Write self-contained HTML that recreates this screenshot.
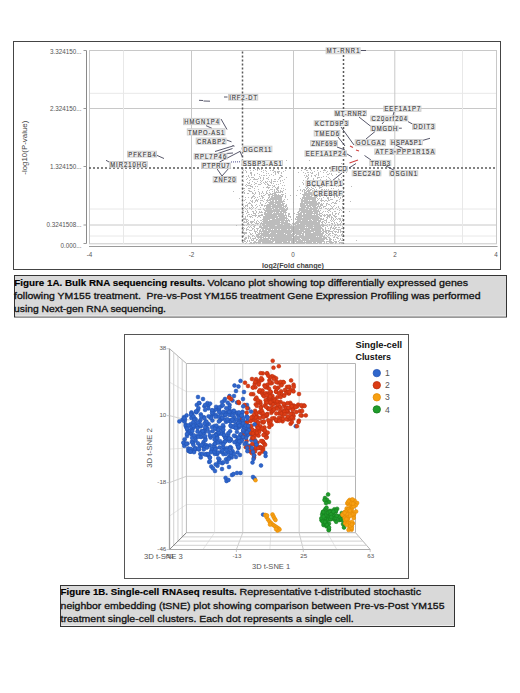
<!DOCTYPE html>
<html><head><meta charset="utf-8"><style>
html,body{margin:0;padding:0;background:#fff;}
body{width:520px;height:693px;position:relative;overflow:hidden;}
svg{position:absolute;left:0;top:0;font-family:"Liberation Sans",sans-serif;}
</style></head><body>
<svg width="520" height="693" viewBox="0 0 520 693">
<rect x="13.5" y="41.5" width="487" height="228" fill="none" stroke="#444" stroke-width="1"/>
<line x1="89" y1="93.3" x2="497" y2="93.3" stroke="#e8e8e8" stroke-width="1"/>
<line x1="89" y1="209" x2="497" y2="209" stroke="#e8e8e8" stroke-width="1"/>
<line x1="89" y1="236" x2="497" y2="236" stroke="#e8e8e8" stroke-width="1"/>
<line x1="89" y1="50.5" x2="497" y2="50.5" stroke="#c8c8c8" stroke-width="1"/>
<line x1="89" y1="108.5" x2="497" y2="108.5" stroke="#c8c8c8" stroke-width="1"/>
<line x1="89" y1="225" x2="497" y2="225" stroke="#c8c8c8" stroke-width="1"/>
<line x1="89" y1="243.8" x2="497" y2="243.8" stroke="#c8c8c8" stroke-width="1"/>
<line x1="123.5" y1="50.5" x2="123.5" y2="243.8" stroke="#e8e8e8" stroke-width="1"/>
<line x1="462.5" y1="50.5" x2="462.5" y2="243.8" stroke="#e8e8e8" stroke-width="1"/>
<line x1="89.5" y1="50.5" x2="89.5" y2="243.8" stroke="#c8c8c8" stroke-width="1"/>
<line x1="191.5" y1="50.5" x2="191.5" y2="243.8" stroke="#c8c8c8" stroke-width="1"/>
<line x1="293.5" y1="50.5" x2="293.5" y2="243.8" stroke="#c8c8c8" stroke-width="1"/>
<line x1="394.8" y1="50.5" x2="394.8" y2="243.8" stroke="#c8c8c8" stroke-width="1"/>
<line x1="496.5" y1="50.5" x2="496.5" y2="243.8" stroke="#c8c8c8" stroke-width="1"/>
<path d="M286 160h1M309 160h1M251 161h1M262 162h1M341 163h1M270 164h1M271 164h1M238 167h1M259 168h1M274 168h1M308 168h1M310 168h1M314 168h1M317 168h1M322 168h1M342 168h1M255 169h1M257 169h1M259 169h1M261 169h1M273 169h1M278 169h1M304 169h1M305 169h1M310 169h1M324 169h1M343 169h1M243 170h1M245 170h1M250 170h1M253 170h1M257 170h1M263 170h1M265 170h1M270 170h1M272 170h1M273 170h1M285 170h1M301 170h1M306 170h1M307 170h1M311 170h1M317 170h1M323 170h1M324 170h1M325 170h1M332 170h1M341 170h1M246 171h1M261 171h1M266 171h1M274 171h1M275 171h1M277 171h1M278 171h1M279 171h1M283 171h1M314 171h1M320 171h1M327 171h1M330 171h1M333 171h1M246 172h1M250 172h1M251 172h1M263 172h1M273 172h1M275 172h1M277 172h1M278 172h1M281 172h1M298 172h1M303 172h1M307 172h1M308 172h1M310 172h1M312 172h1M318 172h1M323 172h1M326 172h1M338 172h1M339 172h1M346 172h1M250 173h1M251 173h1M257 173h1M266 173h1M268 173h1M275 173h1M278 173h1M281 173h1M305 173h1M311 173h1M312 173h1M318 173h1M329 173h1M331 173h1M356 173h1M251 174h1M254 174h1M259 174h1M271 174h1M275 174h1M308 174h1M316 174h1M318 174h1M327 174h1M328 174h1M331 174h1M336 174h1M243 175h1M248 175h1M251 175h1M254 175h1M261 175h1M263 175h1M264 175h1M266 175h1M269 175h1M273 175h1M280 175h1M281 175h1M304 175h1M306 175h1M308 175h1M311 175h1M314 175h1M315 175h1M318 175h1M332 175h1M338 175h1M246 176h1M248 176h1M259 176h1M281 176h1M282 176h1M306 176h1M307 176h1M311 176h1M315 176h1M323 176h1M326 176h1M249 177h1M251 177h1M252 177h1M253 177h1M260 177h1M263 177h1M268 177h1M279 177h1M280 177h1M286 177h1M305 177h1M308 177h1M317 177h1M318 177h1M319 177h1M321 177h1M328 177h1M341 177h1M247 178h1M254 178h1M258 178h1M260 178h1M263 178h1M266 178h1M267 178h1M279 178h1M307 178h1M308 178h1M313 178h1M317 178h1M329 178h1M338 178h1M246 179h1M250 179h1M253 179h1M254 179h1M255 179h1M256 179h1M257 179h1M263 179h1M268 179h1M271 179h1M274 179h1M275 179h1M278 179h1M284 179h1M307 179h1M313 179h1M320 179h1M326 179h1M330 179h1M338 179h1M339 179h1M249 180h1M260 180h1M262 180h1M271 180h1M280 180h1M282 180h1M303 180h1M308 180h1M310 180h1M243 181h1M252 181h1M257 181h1M261 181h1M265 181h1M267 181h1M269 181h1M271 181h1M273 181h1M274 181h1M275 181h1M277 181h1M280 181h1M315 181h1M326 181h1M331 181h1M332 181h1M333 181h1M247 182h1M249 182h1M254 182h1M260 182h1M263 182h1M265 182h1M266 182h1M270 182h1M271 182h1M283 182h1M302 182h1M315 182h1M317 182h1M322 182h1M327 182h1M335 182h1M248 183h1M249 183h1M255 183h1M256 183h1M261 183h1M264 183h1M267 183h1M271 183h1M273 183h1M280 183h1M303 183h1M308 183h1M309 183h1M310 183h1M312 183h1M314 183h1M317 183h1M318 183h1M319 183h1M324 183h1M326 183h1M327 183h1M329 183h1M333 183h1M336 183h1M337 183h1M246 184h1M251 184h1M254 184h1M258 184h1M259 184h1M260 184h1M265 184h1M267 184h1M268 184h1M276 184h1M278 184h1M303 184h1M320 184h1M324 184h1M326 184h1M328 184h1M341 184h1M242 185h1M245 185h1M247 185h1M248 185h1M249 185h1M250 185h1M268 185h1M269 185h1M270 185h1M272 185h1M274 185h1M282 185h1M284 185h1M307 185h1M308 185h1M310 185h1M318 185h1M320 185h1M324 185h1M327 185h1M330 185h1M246 186h1M250 186h1M251 186h1M252 186h1M255 186h1M257 186h1M267 186h1M273 186h1M274 186h1M278 186h1M299 186h1M306 186h1M307 186h1M313 186h1M314 186h1M318 186h1M319 186h1M322 186h1M326 186h1M336 186h1M338 186h1M351 186h1M252 187h1M263 187h1M266 187h1M267 187h1M268 187h1M269 187h1M272 187h1M275 187h1M277 187h1M278 187h1M305 187h1M307 187h1M308 187h1M311 187h1M315 187h1M319 187h1M320 187h1M321 187h1M242 188h1M243 188h1M244 188h1M248 188h1M249 188h1M250 188h1M254 188h1M268 188h1M276 188h1M277 188h1M278 188h1M281 188h1M283 188h1M306 188h1M307 188h1M309 188h1M312 188h1M313 188h1M319 188h1M331 188h1M333 188h1M343 188h1M242 189h1M258 189h1M270 189h1M271 189h1M272 189h1M274 189h1M276 189h1M277 189h1M285 189h1M300 189h1M303 189h1M304 189h1M306 189h1M308 189h1M310 189h1M311 189h1M314 189h1M316 189h1M321 189h1M322 189h1M324 189h1M326 189h1M328 189h1M338 189h1M343 189h1M244 190h1M248 190h1M249 190h1M254 190h1M267 190h1M269 190h1M274 190h1M277 190h1M278 190h1M280 190h1M283 190h1M297 190h1M300 190h1M302 190h1M304 190h1M305 190h1M307 190h1M308 190h1M309 190h1M310 190h1M312 190h1M314 190h1M321 190h1M325 190h1M328 190h1M330 190h1M233 191h1M243 191h1M249 191h1M250 191h1M251 191h1M258 191h1M262 191h1M266 191h1M272 191h1M274 191h1M276 191h1M278 191h1M280 191h1M281 191h1M282 191h1M302 191h1M304 191h1M306 191h1M307 191h1M308 191h1M309 191h1M312 191h1M313 191h1M314 191h1M317 191h1M319 191h1M322 191h1M323 191h1M324 191h1M326 191h1M327 191h1M342 191h1M242 192h1M244 192h1M252 192h1M255 192h1M259 192h1M262 192h1M266 192h1M269 192h1M274 192h1M275 192h1M276 192h1M277 192h1M278 192h1M279 192h1M280 192h1M282 192h1M304 192h1M305 192h1M306 192h1M308 192h1M309 192h1M310 192h1M311 192h1M317 192h1M319 192h1M322 192h1M323 192h1M325 192h1M326 192h1M327 192h1M330 192h1M335 192h1M339 192h1M244 193h1M247 193h1M248 193h1M252 193h1M253 193h1M255 193h1M259 193h1M261 193h1M263 193h1M266 193h1M267 193h1M270 193h1M272 193h1M273 193h1M274 193h1M275 193h1M285 193h1M300 193h1M304 193h1M305 193h1M306 193h1M307 193h1M308 193h1M309 193h1M310 193h1M311 193h1M313 193h1M314 193h1M315 193h1M319 193h1M324 193h1M331 193h1M254 194h1M259 194h1M265 194h1M268 194h1M269 194h1M270 194h1M271 194h1M272 194h1M274 194h1M275 194h1M276 194h1M278 194h1M281 194h1M282 194h1M283 194h1M302 194h1M303 194h1M304 194h1M305 194h1M306 194h1M307 194h1M308 194h1M309 194h1M310 194h1M311 194h1M312 194h1M314 194h1M315 194h1M316 194h1M324 194h1M326 194h1M331 194h1M335 194h1M337 194h1M338 194h1M340 194h1M342 194h1M253 195h1M261 195h1M263 195h1M264 195h1M268 195h1M269 195h1M272 195h1M273 195h1M274 195h1M275 195h1M276 195h1M277 195h1M278 195h1M279 195h1M280 195h1M282 195h1M285 195h1M290 195h1M296 195h1M303 195h1M304 195h1M305 195h1M306 195h1M307 195h1M308 195h1M309 195h1M311 195h1M312 195h1M320 195h1M321 195h1M322 195h1M330 195h1M331 195h1M337 195h1M252 196h1M253 196h1M254 196h1M259 196h1M261 196h1M262 196h1M269 196h1M271 196h1M272 196h1M274 196h1M275 196h1M276 196h1M277 196h1M278 196h1M279 196h1M280 196h1M281 196h1M282 196h1M285 196h1M303 196h1M304 196h1M306 196h1M307 196h1M308 196h1M309 196h1M310 196h1M311 196h1M314 196h1M315 196h1M316 196h1M317 196h1M319 196h1M320 196h1M326 196h1M334 196h1M336 196h1M337 196h1M342 196h1M245 197h1M248 197h1M251 197h1M252 197h1M255 197h1M257 197h1M262 197h1M263 197h1M268 197h1M269 197h1M271 197h1M272 197h1M273 197h1M274 197h1M275 197h1M276 197h1M277 197h1M278 197h1M279 197h1M280 197h1M281 197h1M285 197h1M302 197h1M303 197h1M304 197h1M305 197h1M306 197h1M307 197h1M308 197h1M309 197h1M310 197h1M311 197h1M312 197h1M313 197h1M314 197h1M315 197h1M316 197h1M323 197h1M327 197h1M328 197h1M330 197h1M334 197h1M338 197h1M340 197h1M342 197h1M239 198h1M242 198h1M251 198h1M254 198h1M260 198h1M262 198h1M268 198h1M270 198h1M271 198h1M272 198h1M273 198h1M274 198h1M275 198h1M276 198h1M277 198h1M278 198h1M279 198h1M280 198h1M281 198h1M300 198h1M302 198h1M303 198h1M304 198h1M305 198h1M306 198h1M307 198h1M308 198h1M309 198h1M310 198h1M311 198h1M312 198h1M313 198h1M314 198h1M315 198h1M317 198h1M319 198h1M321 198h1M327 198h1M328 198h1M340 198h1M242 199h1M245 199h1M256 199h1M258 199h1M264 199h1M267 199h1M269 199h1M270 199h1M271 199h1M272 199h1M273 199h1M274 199h1M275 199h1M276 199h1M277 199h1M278 199h1M279 199h1M280 199h1M281 199h1M284 199h1M287 199h1M301 199h1M302 199h1M304 199h1M305 199h1M306 199h1M307 199h1M308 199h1M309 199h1M310 199h1M311 199h1M312 199h1M313 199h1M314 199h1M315 199h1M318 199h1M321 199h1M328 199h1M330 199h1M331 199h1M332 199h1M339 199h1M244 200h1M250 200h1M252 200h1M255 200h1M256 200h1M257 200h1M260 200h1M261 200h1M262 200h1M266 200h1M267 200h1M268 200h1M269 200h1M270 200h1M272 200h1M273 200h1M275 200h1M276 200h1M278 200h1M279 200h1M280 200h1M281 200h1M283 200h1M301 200h1M302 200h1M303 200h1M304 200h1M305 200h1M306 200h1M307 200h1M309 200h1M312 200h1M313 200h1M314 200h1M315 200h1M317 200h1M320 200h1M321 200h1M322 200h1M323 200h1M325 200h1M326 200h1M328 200h1M329 200h1M336 200h1M337 200h1M251 201h1M252 201h1M255 201h1M257 201h1M263 201h1M267 201h1M270 201h1M271 201h1M272 201h1M273 201h1M275 201h1M276 201h1M277 201h1M278 201h1M279 201h1M280 201h1M281 201h1M282 201h1M283 201h1M284 201h1M301 201h1M302 201h1M303 201h1M304 201h1M305 201h1M306 201h1M307 201h1M308 201h1M309 201h1M310 201h1M311 201h1M312 201h1M313 201h1M314 201h1M315 201h1M316 201h1M321 201h1M324 201h1M327 201h1M336 201h1M339 201h1M342 201h1M343 201h1M350 201h1M242 202h1M246 202h1M249 202h1M252 202h1M254 202h1M260 202h1M266 202h1M268 202h1M269 202h1M270 202h1M271 202h1M272 202h1M273 202h1M274 202h1M275 202h1M276 202h1M277 202h1M278 202h1M279 202h1M280 202h1M281 202h1M282 202h1M293 202h1M301 202h1M302 202h1M304 202h1M305 202h1M306 202h1M307 202h1M308 202h1M309 202h1M310 202h1M311 202h1M312 202h1M313 202h1M314 202h1M315 202h1M316 202h1M318 202h1M319 202h1M332 202h1M333 202h1M335 202h1M248 203h1M249 203h1M250 203h1M260 203h1M265 203h1M269 203h1M270 203h1M271 203h1M272 203h1M273 203h1M275 203h1M276 203h1M277 203h1M278 203h1M279 203h1M280 203h1M282 203h1M283 203h1M284 203h1M300 203h1M301 203h1M302 203h1M303 203h1M304 203h1M305 203h1M306 203h1M307 203h1M308 203h1M309 203h1M310 203h1M311 203h1M312 203h1M313 203h1M314 203h1M315 203h1M316 203h1M317 203h1M318 203h1M319 203h1M321 203h1M323 203h1M326 203h1M327 203h1M331 203h1M334 203h1M335 203h1M336 203h1M342 203h1M247 204h1M251 204h1M256 204h1M261 204h1M262 204h1M267 204h1M268 204h1M269 204h1M270 204h1M271 204h1M272 204h1M273 204h1M274 204h1M275 204h1M277 204h1M278 204h1M279 204h1M280 204h1M281 204h1M282 204h1M283 204h1M286 204h1M300 204h1M301 204h1M302 204h1M303 204h1M304 204h1M306 204h1M307 204h1M309 204h1M310 204h1M311 204h1M312 204h1M313 204h1M314 204h1M315 204h1M316 204h1M317 204h1M318 204h1M320 204h1M321 204h1M322 204h1M326 204h1M328 204h1M329 204h1M242 205h1M245 205h1M246 205h1M247 205h1M251 205h1M252 205h1M255 205h1M259 205h1M261 205h1M262 205h1M264 205h1M265 205h1M266 205h1M267 205h1M268 205h1M269 205h1M270 205h1M272 205h1M273 205h1M274 205h1M275 205h1M276 205h1M277 205h1M278 205h1M279 205h1M280 205h1M281 205h1M282 205h1M283 205h1M285 205h1M286 205h1M300 205h1M301 205h1M302 205h1M303 205h1M304 205h1M305 205h1M306 205h1M307 205h1M308 205h1M309 205h1M310 205h1M311 205h1M312 205h1M313 205h1M314 205h1M315 205h1M316 205h1M318 205h1M320 205h1M321 205h1M322 205h1M326 205h1M330 205h1M334 205h1M243 206h1M245 206h1M247 206h1M252 206h1M257 206h1M264 206h1M266 206h1M267 206h1M268 206h1M269 206h1M270 206h1M271 206h1M272 206h1M273 206h1M274 206h1M275 206h1M276 206h1M277 206h1M278 206h1M279 206h1M280 206h1M281 206h1M283 206h1M284 206h1M285 206h1M286 206h1M300 206h1M301 206h1M302 206h1M303 206h1M304 206h1M305 206h1M307 206h1M308 206h1M309 206h1M310 206h1M312 206h1M313 206h1M314 206h1M315 206h1M317 206h1M318 206h1M319 206h1M320 206h1M323 206h1M324 206h1M325 206h1M331 206h1M333 206h1M338 206h1M342 206h1M244 207h1M249 207h1M251 207h1M253 207h1M256 207h1M260 207h1M266 207h1M267 207h1M268 207h1M269 207h1M270 207h1M272 207h1M273 207h1M274 207h1M275 207h1M276 207h1M277 207h1M278 207h1M279 207h1M280 207h1M281 207h1M282 207h1M283 207h1M285 207h1M287 207h1M301 207h1M302 207h1M303 207h1M304 207h1M305 207h1M306 207h1M307 207h1M308 207h1M310 207h1M311 207h1M313 207h1M314 207h1M315 207h1M316 207h1M317 207h1M319 207h1M321 207h1M323 207h1M332 207h1M336 207h1M338 207h1M342 207h1M243 208h1M245 208h1M247 208h1M249 208h1M250 208h1M252 208h1M255 208h1M263 208h1M265 208h1M266 208h1M267 208h1M268 208h1M269 208h1M270 208h1M271 208h1M272 208h1M273 208h1M275 208h1M276 208h1M277 208h1M279 208h1M280 208h1M281 208h1M282 208h1M283 208h1M284 208h1M286 208h1M287 208h1M299 208h1M300 208h1M301 208h1M302 208h1M303 208h1M304 208h1M306 208h1M307 208h1M308 208h1M309 208h1M310 208h1M311 208h1M312 208h1M313 208h1M314 208h1M315 208h1M316 208h1M317 208h1M319 208h1M320 208h1M321 208h1M325 208h1M326 208h1M328 208h1M330 208h1M331 208h1M332 208h1M335 208h1M339 208h1M342 208h1M242 209h1M246 209h1M251 209h1M258 209h1M259 209h1M260 209h1M263 209h1M264 209h1M266 209h1M267 209h1M268 209h1M269 209h1M270 209h1M271 209h1M273 209h1M274 209h1M275 209h1M276 209h1M277 209h1M278 209h1M279 209h1M280 209h1M281 209h1M282 209h1M283 209h1M284 209h1M285 209h1M286 209h1M287 209h1M299 209h1M300 209h1M301 209h1M302 209h1M303 209h1M304 209h1M305 209h1M306 209h1M307 209h1M309 209h1M310 209h1M311 209h1M312 209h1M313 209h1M314 209h1M315 209h1M316 209h1M318 209h1M327 209h1M329 209h1M330 209h1M333 209h1M337 209h1M340 209h1M343 209h1M242 210h1M243 210h1M247 210h1M255 210h1M264 210h1M265 210h1M266 210h1M267 210h1M268 210h1M269 210h1M270 210h1M271 210h1M272 210h1M273 210h1M274 210h1M275 210h1M276 210h1M277 210h1M278 210h1M279 210h1M281 210h1M282 210h1M283 210h1M284 210h1M285 210h1M286 210h1M299 210h1M300 210h1M301 210h1M302 210h1M303 210h1M304 210h1M305 210h1M306 210h1M307 210h1M308 210h1M309 210h1M310 210h1M311 210h1M313 210h1M314 210h1M315 210h1M316 210h1M317 210h1M318 210h1M320 210h1M328 210h1M329 210h1M339 210h1M341 210h1M245 211h1M247 211h1M252 211h1M253 211h1M256 211h1M259 211h1M261 211h1M265 211h1M266 211h1M267 211h1M268 211h1M269 211h1M270 211h1M271 211h1M272 211h1M273 211h1M274 211h1M275 211h1M276 211h1M277 211h1M278 211h1M279 211h1M280 211h1M281 211h1M282 211h1M283 211h1M284 211h1M285 211h1M298 211h1M299 211h1M301 211h1M302 211h1M303 211h1M304 211h1M305 211h1M306 211h1M307 211h1M308 211h1M309 211h1M310 211h1M311 211h1M312 211h1M313 211h1M314 211h1M315 211h1M316 211h1M317 211h1M318 211h1M319 211h1M323 211h1M325 211h1M327 211h1M330 211h1M334 211h1M335 211h1M343 211h1M349 211h1M243 212h1M247 212h1M248 212h1M253 212h1M256 212h1M259 212h1M260 212h1M261 212h1M262 212h1M264 212h1M265 212h1M267 212h1M268 212h1M269 212h1M270 212h1M271 212h1M272 212h1M274 212h1M276 212h1M277 212h1M278 212h1M280 212h1M281 212h1M283 212h1M284 212h1M285 212h1M286 212h1M297 212h1M298 212h1M300 212h1M301 212h1M302 212h1M303 212h1M304 212h1M305 212h1M306 212h1M307 212h1M308 212h1M309 212h1M310 212h1M311 212h1M312 212h1M314 212h1M315 212h1M316 212h1M317 212h1M319 212h1M322 212h1M328 212h1M332 212h1M339 212h1M246 213h1M253 213h1M254 213h1M255 213h1M258 213h1M264 213h1M265 213h1M266 213h1M267 213h1M268 213h1M269 213h1M270 213h1M271 213h1M273 213h1M274 213h1M275 213h1M276 213h1M277 213h1M278 213h1M279 213h1M280 213h1M281 213h1M282 213h1M283 213h1M285 213h1M288 213h1M289 213h1M294 213h1M298 213h1M299 213h1M300 213h1M301 213h1M303 213h1M304 213h1M306 213h1M307 213h1M308 213h1M309 213h1M310 213h1M311 213h1M312 213h1M313 213h1M314 213h1M315 213h1M316 213h1M317 213h1M319 213h1M320 213h1M321 213h1M332 213h1M335 213h1M336 213h1M338 213h1M242 214h1M243 214h1M248 214h1M249 214h1M251 214h1M255 214h1M261 214h1M262 214h1M264 214h1M265 214h1M266 214h1M267 214h1M268 214h1M269 214h1M270 214h1M271 214h1M272 214h1M273 214h1M274 214h1M275 214h1M276 214h1M277 214h1M278 214h1M279 214h1M280 214h1M281 214h1M282 214h1M283 214h1M285 214h1M288 214h1M289 214h1M296 214h1M297 214h1M298 214h1M299 214h1M300 214h1M301 214h1M303 214h1M304 214h1M305 214h1M306 214h1M307 214h1M308 214h1M309 214h1M310 214h1M311 214h1M314 214h1M316 214h1M317 214h1M318 214h1M319 214h1M322 214h1M324 214h1M326 214h1M327 214h1M329 214h1M330 214h1M332 214h1M335 214h1M338 214h1M242 215h1M247 215h1M252 215h1M253 215h1M254 215h1M255 215h1M256 215h1M258 215h1M259 215h1M260 215h1M261 215h1M262 215h1M265 215h1M266 215h1M267 215h1M268 215h1M269 215h1M270 215h1M271 215h1M272 215h1M273 215h1M274 215h1M275 215h1M276 215h1M278 215h1M279 215h1M280 215h1M281 215h1M282 215h1M283 215h1M284 215h1M285 215h1M286 215h1M288 215h1M298 215h1M299 215h1M300 215h1M301 215h1M302 215h1M303 215h1M304 215h1M305 215h1M306 215h1M307 215h1M308 215h1M309 215h1M310 215h1M311 215h1M312 215h1M313 215h1M314 215h1M315 215h1M316 215h1M317 215h1M319 215h1M320 215h1M321 215h1M323 215h1M324 215h1M325 215h1M327 215h1M328 215h1M329 215h1M330 215h1M333 215h1M334 215h1M341 215h1M242 216h1M245 216h1M247 216h1M249 216h1M250 216h1M251 216h1M255 216h1M258 216h1M259 216h1M263 216h1M264 216h1M265 216h1M266 216h1M267 216h1M268 216h1M269 216h1M270 216h1M271 216h1M272 216h1M273 216h1M274 216h1M275 216h1M276 216h1M277 216h1M278 216h1M279 216h1M280 216h1M281 216h1M282 216h1M283 216h1M284 216h1M286 216h1M288 216h1M289 216h1M290 216h1M296 216h1M297 216h1M298 216h1M299 216h1M300 216h1M301 216h1M302 216h1M303 216h1M304 216h1M305 216h1M306 216h1M307 216h1M308 216h1M309 216h1M310 216h1M311 216h1M312 216h1M313 216h1M314 216h1M315 216h1M316 216h1M317 216h1M318 216h1M320 216h1M321 216h1M324 216h1M327 216h1M328 216h1M329 216h1M331 216h1M334 216h1M335 216h1M336 216h1M341 216h1M245 217h1M250 217h1M252 217h1M257 217h1M260 217h1M263 217h1M264 217h1M265 217h1M266 217h1M267 217h1M268 217h1M269 217h1M270 217h1M271 217h1M272 217h1M273 217h1M274 217h1M275 217h1M276 217h1M277 217h1M279 217h1M280 217h1M281 217h1M282 217h1M283 217h1M284 217h1M285 217h1M286 217h1M290 217h1M296 217h1M297 217h1M298 217h1M299 217h1M300 217h1M301 217h1M303 217h1M304 217h1M305 217h1M306 217h1M307 217h1M308 217h1M309 217h1M310 217h1M311 217h1M312 217h1M313 217h1M314 217h1M315 217h1M316 217h1M317 217h1M318 217h1M319 217h1M326 217h1M327 217h1M329 217h1M331 217h1M332 217h1M335 217h1M243 218h1M244 218h1M245 218h1M263 218h1M264 218h1M265 218h1M266 218h1M267 218h1M268 218h1M269 218h1M270 218h1M271 218h1M272 218h1M273 218h1M274 218h1M276 218h1M277 218h1M278 218h1M279 218h1M280 218h1M281 218h1M282 218h1M283 218h1M284 218h1M285 218h1M286 218h1M287 218h1M295 218h1M297 218h1M298 218h1M299 218h1M300 218h1M301 218h1M302 218h1M303 218h1M304 218h1M305 218h1M306 218h1M307 218h1M308 218h1M309 218h1M310 218h1M311 218h1M312 218h1M313 218h1M314 218h1M315 218h1M316 218h1M317 218h1M318 218h1M319 218h1M320 218h1M321 218h1M323 218h1M327 218h1M331 218h1M333 218h1M336 218h1M338 218h1M339 218h1M340 218h1M342 218h1M242 219h1M243 219h1M244 219h1M245 219h1M246 219h1M247 219h1M254 219h1M262 219h1M263 219h1M264 219h1M265 219h1M266 219h1M267 219h1M268 219h1M269 219h1M272 219h1M273 219h1M274 219h1M275 219h1M276 219h1M277 219h1M278 219h1M279 219h1M280 219h1M281 219h1M282 219h1M283 219h1M284 219h1M286 219h1M288 219h1M291 219h1M295 219h1M296 219h1M297 219h1M298 219h1M299 219h1M300 219h1M301 219h1M302 219h1M303 219h1M304 219h1M305 219h1M306 219h1M307 219h1M308 219h1M309 219h1M310 219h1M312 219h1M313 219h1M314 219h1M315 219h1M316 219h1M317 219h1M318 219h1M320 219h1M321 219h1M322 219h1M323 219h1M326 219h1M331 219h1M333 219h1M335 219h1M337 219h1M339 219h1M340 219h1M246 220h1M248 220h1M254 220h1M257 220h1M260 220h1M261 220h1M263 220h1M264 220h1M265 220h1M266 220h1M267 220h1M269 220h1M270 220h1M271 220h1M272 220h1M273 220h1M274 220h1M275 220h1M276 220h1M277 220h1M278 220h1M279 220h1M280 220h1M281 220h1M282 220h1M283 220h1M284 220h1M285 220h1M286 220h1M287 220h1M288 220h1M289 220h1M297 220h1M298 220h1M299 220h1M300 220h1M302 220h1M303 220h1M304 220h1M305 220h1M306 220h1M307 220h1M309 220h1M310 220h1M311 220h1M313 220h1M314 220h1M315 220h1M316 220h1M317 220h1M318 220h1M319 220h1M320 220h1M324 220h1M325 220h1M326 220h1M330 220h1M332 220h1M334 220h1M340 220h1M342 220h1M244 221h1M246 221h1M247 221h1M250 221h1M251 221h1M252 221h1M253 221h1M256 221h1M258 221h1M262 221h1M263 221h1M264 221h1M265 221h1M266 221h1M267 221h1M268 221h1M269 221h1M270 221h1M271 221h1M272 221h1M273 221h1M274 221h1M275 221h1M276 221h1M277 221h1M278 221h1M279 221h1M281 221h1M282 221h1M283 221h1M285 221h1M286 221h1M287 221h1M289 221h1M296 221h1M297 221h1M298 221h1M299 221h1M300 221h1M301 221h1M302 221h1M303 221h1M304 221h1M305 221h1M306 221h1M307 221h1M308 221h1M309 221h1M310 221h1M311 221h1M312 221h1M313 221h1M314 221h1M315 221h1M316 221h1M318 221h1M319 221h1M320 221h1M322 221h1M323 221h1M326 221h1M331 221h1M333 221h1M339 221h1M341 221h1M343 221h1M243 222h1M244 222h1M245 222h1M246 222h1M248 222h1M250 222h1M251 222h1M252 222h1M254 222h1M256 222h1M259 222h1M261 222h1M263 222h1M264 222h1M265 222h1M266 222h1M267 222h1M268 222h1M269 222h1M270 222h1M271 222h1M272 222h1M273 222h1M274 222h1M275 222h1M276 222h1M277 222h1M278 222h1M279 222h1M280 222h1M281 222h1M282 222h1M283 222h1M284 222h1M285 222h1M286 222h1M287 222h1M293 222h1M295 222h1M296 222h1M297 222h1M298 222h1M299 222h1M300 222h1M301 222h1M302 222h1M303 222h1M304 222h1M305 222h1M306 222h1M307 222h1M308 222h1M309 222h1M310 222h1M311 222h1M312 222h1M313 222h1M314 222h1M315 222h1M316 222h1M317 222h1M318 222h1M319 222h1M321 222h1M322 222h1M324 222h1M326 222h1M328 222h1M329 222h1M334 222h1M336 222h1M341 222h1M247 223h1M248 223h1M251 223h1M255 223h1M256 223h1M257 223h1M258 223h1M260 223h1M261 223h1M262 223h1M263 223h1M264 223h1M265 223h1M266 223h1M267 223h1M268 223h1M269 223h1M270 223h1M271 223h1M272 223h1M273 223h1M274 223h1M275 223h1M276 223h1M277 223h1M278 223h1M279 223h1M281 223h1M282 223h1M283 223h1M284 223h1M285 223h1M286 223h1M287 223h1M288 223h1M289 223h1M292 223h1M294 223h1M295 223h1M296 223h1M297 223h1M298 223h1M300 223h1M301 223h1M302 223h1M303 223h1M304 223h1M305 223h1M306 223h1M307 223h1M308 223h1M309 223h1M310 223h1M311 223h1M312 223h1M313 223h1M314 223h1M315 223h1M316 223h1M317 223h1M318 223h1M319 223h1M322 223h1M325 223h1M331 223h1M332 223h1M334 223h1M337 223h1M340 223h1M343 223h1M344 223h1M243 224h1M247 224h1M248 224h1M249 224h1M252 224h1M253 224h1M257 224h1M260 224h1M262 224h1M263 224h1M264 224h1M266 224h1M267 224h1M268 224h1M269 224h1M270 224h1M271 224h1M272 224h1M273 224h1M274 224h1M275 224h1M276 224h1M277 224h1M278 224h1M279 224h1M280 224h1M281 224h1M282 224h1M284 224h1M285 224h1M286 224h1M287 224h1M288 224h1M289 224h1M290 224h1M293 224h1M294 224h1M295 224h1M297 224h1M298 224h1M299 224h1M300 224h1M301 224h1M302 224h1M303 224h1M304 224h1M305 224h1M306 224h1M307 224h1M308 224h1M309 224h1M310 224h1M311 224h1M312 224h1M313 224h1M314 224h1M315 224h1M316 224h1M317 224h1M318 224h1M319 224h1M321 224h1M322 224h1M323 224h1M327 224h1M329 224h1M332 224h1M335 224h1M337 224h1M338 224h1M339 224h1M340 224h1M343 224h1M236 225h1M243 225h1M244 225h1M246 225h1M251 225h1M254 225h1M255 225h1M260 225h1M262 225h1M263 225h1M264 225h1M265 225h1M266 225h1M267 225h1M268 225h1M269 225h1M270 225h1M271 225h1M272 225h1M273 225h1M274 225h1M277 225h1M278 225h1M279 225h1M280 225h1M281 225h1M282 225h1M283 225h1M284 225h1M285 225h1M286 225h1M287 225h1M288 225h1M289 225h1M291 225h1M295 225h1M296 225h1M297 225h1M298 225h1M299 225h1M300 225h1M301 225h1M302 225h1M303 225h1M304 225h1M306 225h1M307 225h1M308 225h1M309 225h1M310 225h1M311 225h1M312 225h1M314 225h1M315 225h1M316 225h1M317 225h1M318 225h1M319 225h1M320 225h1M321 225h1M322 225h1M323 225h1M324 225h1M325 225h1M326 225h1M329 225h1M331 225h1M334 225h1M335 225h1M337 225h1M338 225h1M340 225h1M242 226h1M248 226h1M250 226h1M253 226h1M254 226h1M259 226h1M260 226h1M261 226h1M263 226h1M264 226h1M265 226h1M266 226h1M267 226h1M268 226h1M269 226h1M270 226h1M271 226h1M272 226h1M273 226h1M274 226h1M275 226h1M276 226h1M277 226h1M278 226h1M279 226h1M280 226h1M281 226h1M282 226h1M283 226h1M284 226h1M285 226h1M286 226h1M287 226h1M288 226h1M289 226h1M290 226h1M291 226h1M292 226h1M294 226h1M295 226h1M296 226h1M297 226h1M298 226h1M299 226h1M300 226h1M301 226h1M302 226h1M303 226h1M304 226h1M305 226h1M306 226h1M307 226h1M308 226h1M309 226h1M310 226h1M311 226h1M312 226h1M313 226h1M314 226h1M315 226h1M316 226h1M317 226h1M318 226h1M319 226h1M320 226h1M322 226h1M323 226h1M327 226h1M331 226h1M334 226h1M342 226h1M242 227h1M243 227h1M247 227h1M249 227h1M251 227h1M254 227h1M259 227h1M260 227h1M261 227h1M262 227h1M263 227h1M264 227h1M265 227h1M266 227h1M267 227h1M269 227h1M270 227h1M271 227h1M272 227h1M273 227h1M274 227h1M275 227h1M276 227h1M277 227h1M278 227h1M279 227h1M280 227h1M281 227h1M282 227h1M283 227h1M284 227h1M285 227h1M286 227h1M287 227h1M288 227h1M289 227h1M290 227h1M291 227h1M292 227h1M293 227h1M294 227h1M295 227h1M296 227h1M297 227h1M298 227h1M299 227h1M300 227h1M301 227h1M302 227h1M303 227h1M304 227h1M306 227h1M308 227h1M309 227h1M310 227h1M311 227h1M312 227h1M314 227h1M315 227h1M316 227h1M317 227h1M318 227h1M319 227h1M320 227h1M321 227h1M325 227h1M330 227h1M331 227h1M333 227h1M335 227h1M336 227h1M338 227h1M339 227h1M244 228h1M246 228h1M252 228h1M253 228h1M256 228h1M257 228h1M258 228h1M261 228h1M262 228h1M263 228h1M264 228h1M265 228h1M266 228h1M267 228h1M268 228h1M269 228h1M270 228h1M271 228h1M272 228h1M273 228h1M274 228h1M275 228h1M276 228h1M277 228h1M278 228h1M279 228h1M280 228h1M281 228h1M282 228h1M283 228h1M284 228h1M285 228h1M286 228h1M287 228h1M288 228h1M289 228h1M290 228h1M291 228h1M292 228h1M293 228h1M294 228h1M295 228h1M296 228h1M297 228h1M298 228h1M299 228h1M300 228h1M301 228h1M302 228h1M303 228h1M304 228h1M305 228h1M306 228h1M307 228h1M308 228h1M309 228h1M310 228h1M311 228h1M312 228h1M313 228h1M314 228h1M315 228h1M316 228h1M317 228h1M318 228h1M319 228h1M320 228h1M321 228h1M322 228h1M325 228h1M328 228h1M330 228h1M332 228h1M333 228h1M334 228h1M335 228h1M341 228h1M342 228h1M343 228h1M243 229h1M246 229h1M247 229h1M248 229h1M252 229h1M254 229h1M257 229h1M260 229h1M262 229h1M263 229h1M265 229h1M266 229h1M267 229h1M268 229h1M269 229h1M270 229h1M272 229h1M274 229h1M275 229h1M276 229h1M278 229h1M279 229h1M281 229h1M282 229h1M283 229h1M284 229h1M285 229h1M286 229h1M288 229h1M289 229h1M291 229h1M292 229h1M293 229h1M294 229h1M295 229h1M296 229h1M297 229h1M298 229h1M300 229h1M301 229h1M302 229h1M303 229h1M304 229h1M305 229h1M306 229h1M307 229h1M308 229h1M309 229h1M311 229h1M312 229h1M313 229h1M314 229h1M315 229h1M316 229h1M317 229h1M318 229h1M319 229h1M320 229h1M322 229h1M323 229h1M325 229h1M330 229h1M334 229h1M336 229h1M337 229h1M338 229h1M339 229h1M340 229h1M343 229h1M242 230h1M243 230h1M246 230h1M249 230h1M250 230h1M251 230h1M254 230h1M257 230h1M259 230h1M260 230h1M262 230h1M263 230h1M264 230h1M265 230h1M266 230h1M268 230h1M269 230h1M270 230h1M271 230h1M272 230h1M273 230h1M274 230h1M275 230h1M276 230h1M277 230h1M278 230h1M279 230h1M280 230h1M281 230h1M282 230h1M283 230h1M284 230h1M285 230h1M286 230h1M287 230h1M288 230h1M289 230h1M290 230h1M291 230h1M292 230h1M294 230h1M295 230h1M296 230h1M297 230h1M298 230h1M299 230h1M300 230h1M301 230h1M302 230h1M303 230h1M305 230h1M306 230h1M307 230h1M308 230h1M309 230h1M310 230h1M311 230h1M312 230h1M313 230h1M314 230h1M315 230h1M316 230h1M317 230h1M318 230h1M319 230h1M320 230h1M322 230h1M323 230h1M325 230h1M326 230h1M327 230h1M328 230h1M329 230h1M333 230h1M338 230h1M340 230h1M242 231h1M254 231h1M255 231h1M256 231h1M259 231h1M260 231h1M261 231h1M262 231h1M263 231h1M264 231h1M265 231h1M266 231h1M267 231h1M268 231h1M269 231h1M270 231h1M271 231h1M272 231h1M273 231h1M274 231h1M275 231h1M276 231h1M277 231h1M278 231h1M279 231h1M280 231h1M281 231h1M282 231h1M283 231h1M284 231h1M285 231h1M286 231h1M287 231h1M288 231h1M289 231h1M290 231h1M291 231h1M292 231h1M293 231h1M294 231h1M295 231h1M296 231h1M297 231h1M298 231h1M299 231h1M300 231h1M301 231h1M302 231h1M303 231h1M304 231h1M305 231h1M306 231h1M307 231h1M308 231h1M309 231h1M310 231h1M311 231h1M312 231h1M313 231h1M315 231h1M316 231h1M317 231h1M318 231h1M319 231h1M320 231h1M321 231h1M323 231h1M324 231h1M325 231h1M326 231h1M328 231h1M329 231h1M330 231h1M331 231h1M332 231h1M334 231h1M335 231h1M336 231h1M338 231h1M340 231h1M341 231h1M342 231h1M243 232h1M244 232h1M245 232h1M246 232h1M249 232h1M255 232h1M257 232h1M259 232h1M261 232h1M263 232h1M264 232h1M265 232h1M266 232h1M267 232h1M268 232h1M269 232h1M271 232h1M272 232h1M273 232h1M274 232h1M275 232h1M276 232h1M277 232h1M278 232h1M279 232h1M280 232h1M281 232h1M282 232h1M283 232h1M284 232h1M285 232h1M286 232h1M287 232h1M288 232h1M289 232h1M290 232h1M291 232h1M293 232h1M294 232h1M295 232h1M296 232h1M297 232h1M298 232h1M299 232h1M300 232h1M301 232h1M303 232h1M304 232h1M305 232h1M306 232h1M307 232h1M308 232h1M309 232h1M310 232h1M313 232h1M314 232h1M315 232h1M316 232h1M317 232h1M318 232h1M319 232h1M320 232h1M322 232h1M323 232h1M325 232h1M326 232h1M328 232h1M332 232h1M335 232h1M337 232h1M338 232h1M340 232h1M343 232h1M243 233h1M244 233h1M245 233h1M246 233h1M250 233h1M252 233h1M255 233h1M258 233h1M259 233h1M260 233h1M261 233h1M262 233h1M263 233h1M264 233h1M265 233h1M266 233h1M267 233h1M268 233h1M270 233h1M271 233h1M272 233h1M273 233h1M274 233h1M275 233h1M277 233h1M278 233h1M279 233h1M280 233h1M281 233h1M282 233h1M283 233h1M285 233h1M286 233h1M287 233h1M288 233h1M289 233h1M290 233h1M292 233h1M293 233h1M294 233h1M295 233h1M296 233h1M297 233h1M298 233h1M299 233h1M300 233h1M301 233h1M302 233h1M303 233h1M305 233h1M306 233h1M307 233h1M308 233h1M309 233h1M310 233h1M311 233h1M312 233h1M313 233h1M314 233h1M315 233h1M316 233h1M317 233h1M318 233h1M319 233h1M320 233h1M321 233h1M322 233h1M323 233h1M326 233h1M327 233h1M329 233h1M330 233h1M332 233h1M333 233h1M342 233h1M244 234h1M250 234h1M251 234h1M256 234h1M257 234h1M258 234h1M259 234h1M261 234h1M262 234h1M263 234h1M264 234h1M265 234h1M266 234h1M267 234h1M268 234h1M269 234h1M270 234h1M271 234h1M272 234h1M273 234h1M274 234h1M275 234h1M276 234h1M277 234h1M278 234h1M279 234h1M280 234h1M281 234h1M282 234h1M283 234h1M284 234h1M285 234h1M287 234h1M288 234h1M289 234h1M290 234h1M291 234h1M292 234h1M293 234h1M294 234h1M296 234h1M297 234h1M298 234h1M299 234h1M300 234h1M302 234h1M303 234h1M305 234h1M306 234h1M307 234h1M308 234h1M309 234h1M310 234h1M311 234h1M312 234h1M313 234h1M314 234h1M315 234h1M316 234h1M317 234h1M318 234h1M319 234h1M320 234h1M321 234h1M322 234h1M325 234h1M328 234h1M329 234h1M334 234h1M335 234h1M336 234h1M341 234h1M342 234h1M343 234h1M243 235h1M248 235h1M252 235h1M253 235h1M256 235h1M257 235h1M258 235h1M260 235h1M261 235h1M262 235h1M263 235h1M264 235h1M265 235h1M266 235h1M267 235h1M268 235h1M269 235h1M270 235h1M271 235h1M272 235h1M273 235h1M274 235h1M275 235h1M276 235h1M277 235h1M278 235h1M279 235h1M280 235h1M281 235h1M282 235h1M283 235h1M284 235h1M285 235h1M286 235h1M287 235h1M288 235h1M289 235h1M290 235h1M291 235h1M292 235h1M293 235h1M295 235h1M296 235h1M299 235h1M300 235h1M301 235h1M302 235h1M303 235h1M305 235h1M306 235h1M307 235h1M308 235h1M309 235h1M310 235h1M311 235h1M312 235h1M313 235h1M314 235h1M315 235h1M316 235h1M317 235h1M318 235h1M319 235h1M320 235h1M321 235h1M322 235h1M324 235h1M326 235h1M328 235h1M330 235h1M332 235h1M335 235h1M337 235h1M339 235h1M341 235h1M243 236h1M248 236h1M249 236h1M252 236h1M254 236h1M256 236h1M257 236h1M258 236h1M259 236h1M260 236h1M261 236h1M263 236h1M264 236h1M265 236h1M266 236h1M267 236h1M268 236h1M269 236h1M270 236h1M271 236h1M272 236h1M273 236h1M274 236h1M275 236h1M276 236h1M277 236h1M278 236h1M279 236h1M280 236h1M281 236h1M282 236h1M283 236h1M284 236h1M285 236h1M286 236h1M287 236h1M288 236h1M289 236h1M290 236h1M291 236h1M292 236h1M293 236h1M294 236h1M295 236h1M296 236h1M297 236h1M298 236h1M299 236h1M300 236h1M301 236h1M302 236h1M303 236h1M304 236h1M305 236h1M306 236h1M307 236h1M308 236h1M309 236h1M310 236h1M311 236h1M312 236h1M313 236h1M314 236h1M315 236h1M317 236h1M319 236h1M320 236h1M321 236h1M322 236h1M323 236h1M324 236h1M327 236h1M334 236h1M338 236h1M342 236h1M343 236h1M242 237h1M245 237h1M246 237h1M248 237h1M250 237h1M255 237h1M257 237h1M258 237h1M259 237h1M260 237h1M261 237h1M262 237h1M263 237h1M265 237h1M268 237h1M269 237h1M271 237h1M272 237h1M274 237h1M275 237h1M276 237h1M277 237h1M278 237h1M279 237h1M280 237h1M281 237h1M282 237h1M283 237h1M284 237h1M285 237h1M286 237h1M287 237h1M288 237h1M289 237h1M290 237h1M291 237h1M293 237h1M294 237h1M295 237h1M296 237h1M297 237h1M298 237h1M299 237h1M300 237h1M301 237h1M302 237h1M303 237h1M304 237h1M305 237h1M306 237h1M307 237h1M308 237h1M309 237h1M310 237h1M311 237h1M312 237h1M313 237h1M314 237h1M315 237h1M316 237h1M317 237h1M318 237h1M319 237h1M320 237h1M321 237h1M323 237h1M324 237h1M325 237h1M326 237h1M328 237h1M329 237h1M333 237h1M334 237h1M336 237h1M337 237h1M244 238h1M245 238h1M246 238h1M248 238h1M250 238h1M252 238h1M253 238h1M254 238h1M255 238h1M258 238h1M260 238h1M261 238h1M263 238h1M264 238h1M265 238h1M266 238h1M267 238h1M268 238h1M269 238h1M270 238h1M271 238h1M272 238h1M273 238h1M274 238h1M275 238h1M276 238h1M277 238h1M278 238h1M279 238h1M280 238h1M281 238h1M282 238h1M283 238h1M284 238h1M285 238h1M286 238h1M287 238h1M288 238h1M289 238h1M290 238h1M291 238h1M292 238h1M293 238h1M294 238h1M295 238h1M296 238h1M297 238h1M298 238h1M299 238h1M301 238h1M302 238h1M303 238h1M304 238h1M305 238h1M306 238h1M307 238h1M308 238h1M309 238h1M310 238h1M311 238h1M312 238h1M313 238h1M314 238h1M315 238h1M316 238h1M317 238h1M318 238h1M319 238h1M320 238h1M321 238h1M322 238h1M323 238h1M324 238h1M325 238h1M326 238h1M329 238h1M330 238h1M337 238h1M338 238h1M340 238h1M342 238h1M244 239h1M245 239h1M251 239h1M253 239h1M256 239h1M257 239h1M259 239h1M260 239h1M261 239h1M262 239h1M263 239h1M264 239h1M265 239h1M266 239h1M267 239h1M268 239h1M270 239h1M271 239h1M272 239h1M273 239h1M274 239h1M275 239h1M276 239h1M277 239h1M278 239h1M279 239h1M280 239h1M281 239h1M282 239h1M283 239h1M284 239h1M285 239h1M286 239h1M287 239h1M288 239h1M289 239h1M290 239h1M291 239h1M292 239h1M293 239h1M294 239h1M295 239h1M296 239h1M297 239h1M298 239h1M299 239h1M300 239h1M302 239h1M303 239h1M304 239h1M305 239h1M306 239h1M307 239h1M308 239h1M310 239h1M311 239h1M312 239h1M313 239h1M314 239h1M315 239h1M316 239h1M317 239h1M318 239h1M319 239h1M320 239h1M321 239h1M322 239h1M323 239h1M324 239h1M326 239h1M327 239h1M329 239h1M330 239h1M331 239h1M333 239h1M335 239h1M340 239h1M343 239h1M243 240h1M244 240h1M247 240h1M249 240h1M251 240h1M252 240h1M253 240h1M256 240h1M258 240h1M259 240h1M260 240h1M261 240h1M262 240h1M263 240h1M264 240h1M265 240h1M266 240h1M267 240h1M268 240h1M269 240h1M270 240h1M272 240h1M273 240h1M274 240h1M275 240h1M276 240h1M277 240h1M278 240h1M279 240h1M280 240h1M281 240h1M282 240h1M283 240h1M284 240h1M285 240h1M286 240h1M287 240h1M288 240h1M289 240h1M290 240h1M291 240h1M292 240h1M293 240h1M294 240h1M295 240h1M296 240h1M298 240h1M299 240h1M300 240h1M301 240h1M302 240h1M303 240h1M304 240h1M305 240h1M306 240h1M307 240h1M308 240h1M309 240h1M310 240h1M311 240h1M312 240h1M313 240h1M314 240h1M315 240h1M316 240h1M317 240h1M318 240h1M319 240h1M320 240h1M321 240h1M322 240h1M323 240h1M329 240h1M330 240h1M333 240h1M339 240h1M341 240h1M342 240h1M356 240h1M242 241h1M244 241h1M245 241h1M247 241h1M249 241h1M254 241h1M255 241h1M258 241h1M259 241h1M260 241h1M261 241h1M262 241h1M263 241h1M264 241h1M265 241h1M266 241h1M267 241h1M268 241h1M269 241h1M270 241h1M271 241h1M272 241h1M273 241h1M275 241h1M276 241h1M277 241h1M278 241h1M279 241h1M280 241h1M281 241h1M282 241h1M283 241h1M284 241h1M285 241h1M286 241h1M288 241h1M289 241h1M291 241h1M292 241h1M293 241h1M294 241h1M295 241h1M296 241h1M297 241h1M298 241h1M299 241h1M300 241h1M301 241h1M302 241h1M304 241h1M306 241h1M307 241h1M308 241h1M309 241h1M310 241h1M311 241h1M312 241h1M313 241h1M314 241h1M315 241h1M316 241h1M317 241h1M318 241h1M319 241h1M320 241h1M321 241h1M322 241h1M323 241h1M324 241h1M326 241h1M327 241h1M328 241h1M329 241h1M330 241h1M331 241h1M334 241h1M335 241h1M336 241h1M338 241h1M242 242h1M243 242h1M246 242h1M250 242h1M251 242h1M253 242h1M254 242h1M255 242h1M256 242h1M257 242h1M258 242h1M259 242h1M260 242h1M262 242h1M263 242h1M264 242h1M265 242h1M266 242h1M267 242h1M268 242h1M269 242h1M270 242h1M271 242h1M272 242h1M275 242h1M276 242h1M277 242h1M278 242h1M279 242h1M280 242h1M281 242h1M283 242h1M284 242h1M285 242h1M286 242h1M287 242h1M288 242h1M289 242h1M291 242h1M292 242h1M293 242h1M294 242h1M296 242h1M297 242h1M298 242h1M299 242h1M300 242h1M301 242h1M302 242h1M303 242h1M304 242h1M305 242h1M306 242h1M307 242h1M308 242h1M309 242h1M310 242h1M311 242h1M313 242h1M314 242h1M315 242h1M317 242h1M318 242h1M319 242h1M320 242h1M321 242h1M324 242h1M326 242h1M329 242h1M330 242h1M331 242h1M332 242h1M333 242h1M335 242h1M336 242h1M339 242h1M340 242h1M341 242h1M342 242h1M343 242h1M245 243h1M249 243h1M250 243h1M251 243h1M252 243h1M253 243h1M254 243h1M256 243h1M258 243h1M259 243h1M260 243h1M262 243h1M263 243h1M264 243h1M265 243h1M266 243h1M267 243h1M268 243h1M269 243h1M270 243h1M271 243h1M272 243h1M273 243h1M274 243h1M275 243h1M276 243h1M277 243h1M278 243h1M279 243h1M280 243h1M281 243h1M282 243h1M283 243h1M284 243h1M285 243h1M286 243h1M287 243h1M288 243h1M289 243h1M290 243h1M291 243h1M292 243h1M293 243h1M294 243h1M295 243h1M296 243h1M297 243h1M298 243h1M299 243h1M300 243h1M301 243h1M302 243h1M303 243h1M304 243h1M306 243h1M307 243h1M308 243h1M309 243h1M310 243h1M311 243h1M312 243h1M313 243h1M314 243h1M315 243h1M316 243h1M317 243h1M319 243h1M320 243h1M321 243h1M323 243h1M324 243h1M326 243h1M327 243h1M328 243h1M330 243h1M331 243h1M332 243h1M335 243h1M339 243h1M341 243h1M342 243h1M343 243h1" stroke="#bcbcbc" stroke-width="1" fill="none" shape-rendering="crispEdges"/>
<line x1="293.5" y1="170" x2="293.5" y2="243.8" stroke="#888" stroke-width="1" opacity="0.35"/>
<line x1="86.5" y1="50.5" x2="86.5" y2="243.5" stroke="#8a8a8a" stroke-width="1"/>
<line x1="89" y1="246.5" x2="497.5" y2="246.5" stroke="#9a9a9a" stroke-width="1"/>
<line x1="83.5" y1="50.5" x2="86.5" y2="50.5" stroke="#999" stroke-width="1"/>
<line x1="83.5" y1="108.5" x2="86.5" y2="108.5" stroke="#999" stroke-width="1"/>
<line x1="83.5" y1="166.5" x2="86.5" y2="166.5" stroke="#999" stroke-width="1"/>
<line x1="83.5" y1="225" x2="86.5" y2="225" stroke="#999" stroke-width="1"/>
<line x1="83.5" y1="243.5" x2="86.5" y2="243.5" stroke="#999" stroke-width="1"/>
<line x1="242.5" y1="51.5" x2="242.5" y2="243.5" stroke="#5a5a5a" stroke-width="1.5" stroke-dasharray="2 2"/>
<line x1="343.5" y1="55" x2="343.5" y2="243.5" stroke="#5a5a5a" stroke-width="1.5" stroke-dasharray="2 2"/>
<line x1="89" y1="168" x2="496" y2="168" stroke="#5a5a5a" stroke-width="1.5" stroke-dasharray="2 2"/>
<text x="81.5" y="53.7" font-size="6.3" fill="#555" text-anchor="end">3.324150...</text>
<text x="81.5" y="111.2" font-size="6.3" fill="#555" text-anchor="end">2.324150...</text>
<text x="81.5" y="168.7" font-size="6.3" fill="#555" text-anchor="end">1.324150...</text>
<text x="81.5" y="227" font-size="6.3" fill="#555" text-anchor="end">0.3241508...</text>
<text x="81.5" y="247.8" font-size="6.3" fill="#555" text-anchor="end">0.000...</text>
<text x="89.5" y="256.8" font-size="6.3" fill="#555" text-anchor="middle">-4</text>
<text x="191.5" y="256.8" font-size="6.3" fill="#555" text-anchor="middle">-2</text>
<text x="293" y="256.8" font-size="6.3" fill="#555" text-anchor="middle">0</text>
<text x="395" y="256.8" font-size="6.3" fill="#555" text-anchor="middle">2</text>
<text x="496" y="256.8" font-size="6.3" fill="#555" text-anchor="middle">4</text>
<text x="293" y="267.6" font-size="6.8" fill="#444" textLength="62" lengthAdjust="spacingAndGlyphs" text-anchor="middle" font-weight="600">log2(Fold change)</text>
<text transform="translate(27.4,147.7) rotate(-90)" font-size="6.6" fill="#444" text-anchor="middle" textLength="54" lengthAdjust="spacingAndGlyphs">-log10(P-value)</text>
<line x1="361" y1="50.5" x2="366" y2="50.5" stroke="#45455a" stroke-width="0.9"/>
<line x1="224" y1="97" x2="227.5" y2="97" stroke="#45455a" stroke-width="0.9"/>
<line x1="199" y1="100.3" x2="203" y2="100.5" stroke="#45455a" stroke-width="0.9"/>
<line x1="203.5" y1="101" x2="210" y2="101.2" stroke="#45455a" stroke-width="0.9"/>
<line x1="221" y1="119" x2="227" y2="129.5" stroke="#45455a" stroke-width="0.9"/>
<line x1="206" y1="125.6" x2="212" y2="128.4" stroke="#45455a" stroke-width="0.9"/>
<line x1="226.5" y1="140" x2="231.5" y2="141.8" stroke="#45455a" stroke-width="0.9"/>
<line x1="232.5" y1="145.5" x2="234.5" y2="146.2" stroke="#45455a" stroke-width="0.9"/>
<line x1="215" y1="151.5" x2="233.5" y2="145.8" stroke="#45455a" stroke-width="0.9"/>
<line x1="215" y1="154.5" x2="232.5" y2="148.5" stroke="#45455a" stroke-width="0.9"/>
<line x1="226" y1="153.5" x2="233" y2="153" stroke="#45455a" stroke-width="0.9"/>
<line x1="219.6" y1="162" x2="240.4" y2="151.2" stroke="#45455a" stroke-width="0.9"/>
<line x1="240" y1="151.5" x2="242.5" y2="157" stroke="#45455a" stroke-width="0.9"/>
<line x1="217" y1="168.8" x2="222" y2="176" stroke="#45455a" stroke-width="0.9"/>
<line x1="229" y1="168" x2="222" y2="176" stroke="#45455a" stroke-width="0.9"/>
<line x1="359" y1="117" x2="371" y2="126.5" stroke="#45455a" stroke-width="0.9"/>
<line x1="394" y1="112" x2="393" y2="115.7" stroke="#45455a" stroke-width="0.9"/>
<line x1="384" y1="121.6" x2="382" y2="124" stroke="#45455a" stroke-width="0.9"/>
<line x1="399" y1="128.2" x2="401.8" y2="128.2" stroke="#45455a" stroke-width="0.9"/>
<line x1="408" y1="121.6" x2="412.5" y2="124" stroke="#45455a" stroke-width="0.9"/>
<line x1="341" y1="127" x2="354" y2="145" stroke="#45455a" stroke-width="0.9"/>
<line x1="338" y1="137" x2="345" y2="146" stroke="#45455a" stroke-width="0.9"/>
<line x1="337" y1="147" x2="345" y2="150" stroke="#45455a" stroke-width="0.9"/>
<line x1="366" y1="139" x2="375" y2="131.5" stroke="#45455a" stroke-width="0.9"/>
<line x1="423" y1="140.3" x2="430" y2="138.3" stroke="#45455a" stroke-width="0.9"/>
<line x1="347" y1="154" x2="352" y2="157" stroke="#45455a" stroke-width="0.9"/>
<line x1="394" y1="151.8" x2="396" y2="151.8" stroke="#45455a" stroke-width="0.9"/>
<line x1="364.5" y1="155.5" x2="371" y2="160" stroke="#45455a" stroke-width="0.9"/>
<line x1="349" y1="168" x2="356" y2="163.5" stroke="#45455a" stroke-width="0.9"/>
<line x1="386" y1="166" x2="394" y2="170.2" stroke="#45455a" stroke-width="0.9"/>
<line x1="395.5" y1="145" x2="403" y2="148.6" stroke="#45455a" stroke-width="0.9"/>
<line x1="333" y1="180.2" x2="342" y2="173" stroke="#45455a" stroke-width="0.9"/>
<line x1="106" y1="160.3" x2="110" y2="162.5" stroke="#45455a" stroke-width="0.9"/>
<line x1="157" y1="155.4" x2="164" y2="158.5" stroke="#45455a" stroke-width="0.9"/>
<line x1="231" y1="162" x2="241" y2="161.8" stroke="#4a4a8a" stroke-width="1" stroke-dasharray="1 1"/>
<line x1="349.5" y1="163" x2="358" y2="160" stroke="#d04040" stroke-width="1.1"/>
<line x1="350" y1="146" x2="353" y2="147.5" stroke="#d04040" stroke-width="1.1"/>
<line x1="356" y1="150" x2="359" y2="151" stroke="#d04040" stroke-width="1.1"/>
<rect x="326.1" y="47.8" width="34" height="5.9" fill="#ececec" stroke="#cdcdcd" stroke-width="1"/>
<text transform="translate(343.1,53.35) scale(0.8,1)" font-size="7.3" fill="#404040" stroke="#404040" stroke-width="0.15" text-anchor="middle" textLength="40.75" lengthAdjust="spacing">MT-RNR1</text>
<rect x="228.5" y="94.5" width="29.2" height="5.6" fill="#ececec" stroke="#cdcdcd" stroke-width="1"/>
<text transform="translate(243.1,99.9) scale(0.8,1)" font-size="7.3" fill="#404040" stroke="#404040" stroke-width="0.15" text-anchor="middle" textLength="34.75" lengthAdjust="spacing">IRF2-DT</text>
<rect x="383.8" y="106.1" width="37.1" height="5.2" fill="#ececec" stroke="#cdcdcd" stroke-width="1"/>
<text transform="translate(402.35,111.3) scale(0.8,1)" font-size="7.3" fill="#404040" stroke="#404040" stroke-width="0.15" text-anchor="middle" textLength="44.62" lengthAdjust="spacing">EEF1A1P7</text>
<rect x="334.4" y="110.7" width="32.1" height="5" fill="#ececec" stroke="#cdcdcd" stroke-width="1"/>
<text transform="translate(350.45,115.8) scale(0.8,1)" font-size="7.3" fill="#404040" stroke="#404040" stroke-width="0.15" text-anchor="middle" textLength="38.38" lengthAdjust="spacing">MT-RNR2</text>
<rect x="370.8" y="116" width="36.9" height="4.9" fill="#ececec" stroke="#cdcdcd" stroke-width="1"/>
<text transform="translate(389.25,121.05) scale(0.8,1)" font-size="7.3" fill="#404040" stroke="#404040" stroke-width="0.15" text-anchor="middle" textLength="44.37" lengthAdjust="spacing">C20orf204</text>
<rect x="314.2" y="120.7" width="34.3" height="4.9" fill="#ececec" stroke="#cdcdcd" stroke-width="1"/>
<text transform="translate(331.35,125.75) scale(0.8,1)" font-size="7.3" fill="#404040" stroke="#404040" stroke-width="0.15" text-anchor="middle" textLength="41.13" lengthAdjust="spacing">KCTD9P3</text>
<rect x="183.5" y="118.4" width="36.2" height="6.2" fill="#ececec" stroke="#cdcdcd" stroke-width="1"/>
<text transform="translate(201.6,124.1) scale(0.8,1)" font-size="7.3" fill="#404040" stroke="#404040" stroke-width="0.15" text-anchor="middle" textLength="43.5" lengthAdjust="spacing">HMGN1P4</text>
<rect x="370.8" y="126" width="27.2" height="4.9" fill="#ececec" stroke="#cdcdcd" stroke-width="1"/>
<text transform="translate(384.4,131.05) scale(0.8,1)" font-size="7.3" fill="#404040" stroke="#404040" stroke-width="0.15" text-anchor="middle" textLength="32.25" lengthAdjust="spacing">DMGDH</text>
<rect x="412.5" y="123.8" width="22.5" height="5.5" fill="#ececec" stroke="#cdcdcd" stroke-width="1"/>
<text transform="translate(423.75,129.15) scale(0.8,1)" font-size="7.3" fill="#404040" stroke="#404040" stroke-width="0.15" text-anchor="middle" textLength="26.38" lengthAdjust="spacing">DDIT3</text>
<rect x="187.3" y="128.8" width="37.6" height="6.2" fill="#ececec" stroke="#cdcdcd" stroke-width="1"/>
<text transform="translate(206.1,134.5) scale(0.8,1)" font-size="7.3" fill="#404040" stroke="#404040" stroke-width="0.15" text-anchor="middle" textLength="45.25" lengthAdjust="spacing">TMPO-AS1</text>
<rect x="314.2" y="130.5" width="25.6" height="5.5" fill="#ececec" stroke="#cdcdcd" stroke-width="1"/>
<text transform="translate(327,135.85) scale(0.8,1)" font-size="7.3" fill="#404040" stroke="#404040" stroke-width="0.15" text-anchor="middle" textLength="30.25" lengthAdjust="spacing">TMED6</text>
<rect x="196.2" y="138.1" width="29.8" height="5.9" fill="#ececec" stroke="#cdcdcd" stroke-width="1"/>
<text transform="translate(211.1,143.65) scale(0.8,1)" font-size="7.3" fill="#404040" stroke="#404040" stroke-width="0.15" text-anchor="middle" textLength="35.5" lengthAdjust="spacing">CRABP2</text>
<rect x="310.7" y="140.5" width="26.7" height="5.5" fill="#ececec" stroke="#cdcdcd" stroke-width="1"/>
<text transform="translate(324.05,145.85) scale(0.8,1)" font-size="7.3" fill="#404040" stroke="#404040" stroke-width="0.15" text-anchor="middle" textLength="31.62" lengthAdjust="spacing">ZNF699</text>
<rect x="355.2" y="139.8" width="30.3" height="5.9" fill="#ececec" stroke="#cdcdcd" stroke-width="1"/>
<text transform="translate(370.35,145.35) scale(0.8,1)" font-size="7.3" fill="#404040" stroke="#404040" stroke-width="0.15" text-anchor="middle" textLength="36.13" lengthAdjust="spacing">GOLGA2</text>
<rect x="390.2" y="139.5" width="32.1" height="5.2" fill="#ececec" stroke="#cdcdcd" stroke-width="1"/>
<text transform="translate(406.25,144.7) scale(0.8,1)" font-size="7.3" fill="#404040" stroke="#404040" stroke-width="0.15" text-anchor="middle" textLength="38.38" lengthAdjust="spacing">HSPA5P1</text>
<rect x="242.5" y="146.2" width="29.4" height="5.6" fill="#ececec" stroke="#cdcdcd" stroke-width="1"/>
<text transform="translate(257.2,151.6) scale(0.8,1)" font-size="7.3" fill="#404040" stroke="#404040" stroke-width="0.15" text-anchor="middle" textLength="35" lengthAdjust="spacing">DGCR11</text>
<rect x="374.8" y="149" width="18.7" height="5.5" fill="#ececec" stroke="#cdcdcd" stroke-width="1"/>
<text transform="translate(384.15,154.35) scale(0.8,1)" font-size="7.3" fill="#404040" stroke="#404040" stroke-width="0.15" text-anchor="middle" textLength="21.62" lengthAdjust="spacing">ATF3</text>
<rect x="396.2" y="149" width="38.8" height="5.5" fill="#ececec" stroke="#cdcdcd" stroke-width="1"/>
<text transform="translate(415.6,154.35) scale(0.8,1)" font-size="7.3" fill="#404040" stroke="#404040" stroke-width="0.15" text-anchor="middle" textLength="46.75" lengthAdjust="spacing">PPP1R15A</text>
<rect x="305" y="150.8" width="41.4" height="5.6" fill="#ececec" stroke="#cdcdcd" stroke-width="1"/>
<text transform="translate(325.7,156.2) scale(0.8,1)" font-size="7.3" fill="#404040" stroke="#404040" stroke-width="0.15" text-anchor="middle" textLength="50" lengthAdjust="spacing">EEF1A1P24</text>
<rect x="127.5" y="151.3" width="29" height="5.7" fill="#ececec" stroke="#cdcdcd" stroke-width="1"/>
<text transform="translate(142,156.75) scale(0.8,1)" font-size="7.3" fill="#404040" stroke="#404040" stroke-width="0.15" text-anchor="middle" textLength="34.5" lengthAdjust="spacing">PFKFB4</text>
<rect x="194.1" y="153.7" width="32.8" height="5.4" fill="#ececec" stroke="#cdcdcd" stroke-width="1"/>
<text transform="translate(210.5,159) scale(0.8,1)" font-size="7.3" fill="#404040" stroke="#404040" stroke-width="0.15" text-anchor="middle" textLength="39.25" lengthAdjust="spacing">RPL7P46</text>
<rect x="369.8" y="160.4" width="21" height="5.1" fill="#ececec" stroke="#cdcdcd" stroke-width="1"/>
<text transform="translate(380.3,165.55) scale(0.8,1)" font-size="7.3" fill="#404040" stroke="#404040" stroke-width="0.15" text-anchor="middle" textLength="24.5" lengthAdjust="spacing">TRIB3</text>
<rect x="242" y="160.5" width="40.5" height="5" fill="#ececec" stroke="#cdcdcd" stroke-width="1"/>
<text transform="translate(262.25,165.6) scale(0.8,1)" font-size="7.3" fill="#404040" stroke="#404040" stroke-width="0.15" text-anchor="middle" textLength="48.88" lengthAdjust="spacing">SSBP3-AS1</text>
<rect x="109.5" y="161.5" width="37.8" height="5.7" fill="#ececec" stroke="#cdcdcd" stroke-width="1"/>
<text transform="translate(128.4,166.95) scale(0.8,1)" font-size="7.3" fill="#404040" stroke="#404040" stroke-width="0.15" text-anchor="middle" textLength="45.5" lengthAdjust="spacing">MIR210HG</text>
<rect x="201.5" y="163" width="28.8" height="5.4" fill="#ececec" stroke="#cdcdcd" stroke-width="1"/>
<text transform="translate(215.9,168.3) scale(0.8,1)" font-size="7.3" fill="#404040" stroke="#404040" stroke-width="0.15" text-anchor="middle" textLength="34.25" lengthAdjust="spacing">PTPRU7</text>
<rect x="331" y="166.5" width="16.5" height="4.6" fill="#ececec" stroke="#cdcdcd" stroke-width="1"/>
<text transform="translate(339.25,171.4) scale(0.8,1)" font-size="7.3" fill="#404040" stroke="#404040" stroke-width="0.15" text-anchor="middle" textLength="18.88" lengthAdjust="spacing">FICD</text>
<rect x="352.2" y="170.8" width="28.7" height="5" fill="#ececec" stroke="#cdcdcd" stroke-width="1"/>
<text transform="translate(366.55,175.9) scale(0.8,1)" font-size="7.3" fill="#404040" stroke="#404040" stroke-width="0.15" text-anchor="middle" textLength="34.12" lengthAdjust="spacing">SEC24D</text>
<rect x="389.4" y="170.8" width="28.3" height="5" fill="#ececec" stroke="#cdcdcd" stroke-width="1"/>
<text transform="translate(403.55,175.9) scale(0.8,1)" font-size="7.3" fill="#404040" stroke="#404040" stroke-width="0.15" text-anchor="middle" textLength="33.63" lengthAdjust="spacing">OSGIN1</text>
<rect x="213.2" y="176.5" width="22.9" height="6.1" fill="#ececec" stroke="#cdcdcd" stroke-width="1"/>
<text transform="translate(224.65,182.15) scale(0.8,1)" font-size="7.3" fill="#404040" stroke="#404040" stroke-width="0.15" text-anchor="middle" textLength="26.88" lengthAdjust="spacing">ZNF20</text>
<rect x="306" y="180.7" width="36.7" height="5" fill="#ececec" stroke="#cdcdcd" stroke-width="1"/>
<text transform="translate(324.35,185.8) scale(0.8,1)" font-size="7.3" fill="#404040" stroke="#404040" stroke-width="0.15" text-anchor="middle" textLength="44.12" lengthAdjust="spacing">BCLAF1P1</text>
<rect x="312.7" y="190.8" width="30" height="4.4" fill="#ececec" stroke="#cdcdcd" stroke-width="1"/>
<text transform="translate(327.7,195.6) scale(0.8,1)" font-size="7.3" fill="#404040" stroke="#404040" stroke-width="0.15" text-anchor="middle" textLength="35.75" lengthAdjust="spacing">CREBRF</text>
<rect x="14.5" y="275.5" width="492" height="41.5" fill="#d9d9d9" stroke="#333" stroke-width="1"/>
<line x1="15.5" y1="316" x2="506" y2="316" stroke="#f2f2f2" stroke-width="0.8"/>
<text x="14.2" y="285.6" font-size="9.4" fill="#000" font-weight="bold" textLength="190.8" lengthAdjust="spacingAndGlyphs" stroke="#000" stroke-width="0.15">Figure 1A. Bulk RNA sequencing results.</text>
<text x="207.5" y="285.6" font-size="9.6" fill="#111" textLength="260.5" lengthAdjust="spacingAndGlyphs" stroke="#111" stroke-width="0.3">Volcano plot showing top differentially expressed genes</text>
<text x="14.1" y="299.4" font-size="9.6" fill="#111" textLength="466.4" lengthAdjust="spacingAndGlyphs" stroke="#111" stroke-width="0.3">following YM155 treatment.  Pre-vs-Post YM155 treatment Gene Expression Profiling was performed</text>
<text x="14.1" y="312.4" font-size="9.6" fill="#111" textLength="151.9" lengthAdjust="spacingAndGlyphs" stroke="#111" stroke-width="0.3">using Next-gen RNA sequencing.</text>
<rect x="60.5" y="585.5" width="394" height="41" fill="#d9d9d9" stroke="#333" stroke-width="1"/>
<line x1="61.5" y1="625.5" x2="454" y2="625.5" stroke="#f2f2f2" stroke-width="0.8"/>
<text x="60.6" y="594.7" font-size="9.4" fill="#000" font-weight="bold" textLength="176.2" lengthAdjust="spacingAndGlyphs" stroke="#000" stroke-width="0.15">Figure 1B. Single-cell RNAseq results.</text>
<text x="239.5" y="594.7" font-size="9.6" fill="#111" textLength="181.5" lengthAdjust="spacingAndGlyphs" stroke="#111" stroke-width="0.3">Representative t-distributed stochastic</text>
<text x="60.6" y="608.8" font-size="9.6" fill="#111" textLength="383.9" lengthAdjust="spacingAndGlyphs" stroke="#111" stroke-width="0.3">neighbor embedding (tSNE) plot showing comparison between Pre-vs-Post YM155</text>
<text x="60.6" y="622.3" font-size="9.6" fill="#111" textLength="293.1" lengthAdjust="spacingAndGlyphs" stroke="#111" stroke-width="0.3">treatment single-cell clusters. Each dot represents a single cell.</text>
<rect x="124.5" y="334.5" width="284" height="244" fill="none" stroke="#555" stroke-width="1"/>
<line x1="214.58" y1="363.5" x2="214.58" y2="532.7" stroke="#e6e6e6" stroke-width="1"/>
<line x1="242.77" y1="363.5" x2="242.77" y2="532.7" stroke="#d0d0d0" stroke-width="1"/>
<line x1="270.95" y1="363.5" x2="270.95" y2="532.7" stroke="#e6e6e6" stroke-width="1"/>
<line x1="299.13" y1="363.5" x2="299.13" y2="532.7" stroke="#d0d0d0" stroke-width="1"/>
<line x1="327.32" y1="363.5" x2="327.32" y2="532.7" stroke="#e6e6e6" stroke-width="1"/>
<line x1="355.5" y1="363.5" x2="355.5" y2="532.7" stroke="#b4b4b4" stroke-width="1"/>
<line x1="186.4" y1="363.5" x2="355.5" y2="363.5" stroke="#b4b4b4" stroke-width="1"/>
<line x1="186.4" y1="391.7" x2="355.5" y2="391.7" stroke="#e6e6e6" stroke-width="1"/>
<line x1="186.4" y1="419.9" x2="355.5" y2="419.9" stroke="#d0d0d0" stroke-width="1"/>
<line x1="186.4" y1="448.1" x2="355.5" y2="448.1" stroke="#e6e6e6" stroke-width="1"/>
<line x1="186.4" y1="476.3" x2="355.5" y2="476.3" stroke="#d0d0d0" stroke-width="1"/>
<line x1="186.4" y1="504.5" x2="355.5" y2="504.5" stroke="#e6e6e6" stroke-width="1"/>
<line x1="186.4" y1="532.7" x2="355.5" y2="532.7" stroke="#b4b4b4" stroke-width="1"/>
<line x1="186.4" y1="532.7" x2="169.5" y2="549.5" stroke="#b4b4b4" stroke-width="1"/>
<line x1="214.58" y1="532.7" x2="202.95" y2="549.5" stroke="#e6e6e6" stroke-width="1"/>
<line x1="242.77" y1="532.7" x2="236.4" y2="549.5" stroke="#d0d0d0" stroke-width="1"/>
<line x1="270.95" y1="532.7" x2="269.85" y2="549.5" stroke="#e6e6e6" stroke-width="1"/>
<line x1="299.13" y1="532.7" x2="303.3" y2="549.5" stroke="#d0d0d0" stroke-width="1"/>
<line x1="327.32" y1="532.7" x2="336.75" y2="549.5" stroke="#e6e6e6" stroke-width="1"/>
<line x1="355.5" y1="532.7" x2="370.2" y2="549.5" stroke="#b4b4b4" stroke-width="1"/>
<line x1="182.18" y1="536.9" x2="359.18" y2="536.9" stroke="#d0d0d0" stroke-width="1"/>
<line x1="177.95" y1="541.1" x2="362.85" y2="541.1" stroke="#d0d0d0" stroke-width="1"/>
<line x1="173.72" y1="545.3" x2="366.52" y2="545.3" stroke="#d0d0d0" stroke-width="1"/>
<line x1="169.5" y1="549.5" x2="370.2" y2="549.5" stroke="#aaa" stroke-width="1"/>
<line x1="169.5" y1="348.7" x2="186.4" y2="363.5" stroke="#b4b4b4" stroke-width="1"/>
<line x1="169.5" y1="382.17" x2="186.4" y2="391.7" stroke="#e6e6e6" stroke-width="1"/>
<line x1="169.5" y1="415.63" x2="186.4" y2="419.9" stroke="#d0d0d0" stroke-width="1"/>
<line x1="169.5" y1="449.1" x2="186.4" y2="448.1" stroke="#e6e6e6" stroke-width="1"/>
<line x1="169.5" y1="482.57" x2="186.4" y2="476.3" stroke="#d0d0d0" stroke-width="1"/>
<line x1="169.5" y1="516.03" x2="186.4" y2="504.5" stroke="#e6e6e6" stroke-width="1"/>
<line x1="169.5" y1="549.5" x2="186.4" y2="532.7" stroke="#b4b4b4" stroke-width="1"/>
<line x1="182.18" y1="359.8" x2="182.18" y2="536.9" stroke="#d0d0d0" stroke-width="1"/>
<line x1="177.95" y1="356.1" x2="177.95" y2="541.1" stroke="#d0d0d0" stroke-width="1"/>
<line x1="173.72" y1="352.4" x2="173.72" y2="545.3" stroke="#d0d0d0" stroke-width="1"/>
<line x1="186.4" y1="363.5" x2="186.4" y2="532.7" stroke="#bbb" stroke-width="1"/>
<line x1="169.5" y1="348.7" x2="169.5" y2="549.5" stroke="#a0a0a0" stroke-width="1.3"/>
<line x1="169.5" y1="549.5" x2="186.4" y2="532.7" stroke="#888" stroke-width="1"/>
<line x1="166.8" y1="348.7" x2="169.5" y2="348.7" stroke="#bbb" stroke-width="0.8"/>
<text x="166.3" y="350.2" font-size="6.2" fill="#555" text-anchor="end">38</text>
<line x1="166.8" y1="415.63" x2="169.5" y2="415.63" stroke="#bbb" stroke-width="0.8"/>
<text x="166.3" y="417.13" font-size="6.2" fill="#555" text-anchor="end">10</text>
<line x1="166.8" y1="482.57" x2="169.5" y2="482.57" stroke="#bbb" stroke-width="0.8"/>
<text x="166.3" y="484.07" font-size="6.2" fill="#555" text-anchor="end">-18</text>
<line x1="166.8" y1="549.5" x2="169.5" y2="549.5" stroke="#bbb" stroke-width="0.8"/>
<text x="166.3" y="551" font-size="6.2" fill="#555" text-anchor="end">-46</text>
<line x1="236.4" y1="549.5" x2="236.4" y2="552" stroke="#bbb" stroke-width="0.8"/>
<text x="236.9" y="557.9" font-size="6.2" fill="#555" text-anchor="middle">-13</text>
<line x1="303.3" y1="549.5" x2="303.3" y2="552" stroke="#bbb" stroke-width="0.8"/>
<text x="303.8" y="557.9" font-size="6.2" fill="#555" text-anchor="middle">25</text>
<line x1="370.2" y1="549.5" x2="370.2" y2="552" stroke="#bbb" stroke-width="0.8"/>
<text x="370.7" y="557.9" font-size="6.2" fill="#555" text-anchor="middle">63</text>
<text x="169.5" y="557.9" font-size="6.2" fill="#555" text-anchor="middle">-51</text>
<text x="144" y="558.6" font-size="7.2" fill="#555" textLength="38.9" lengthAdjust="spacingAndGlyphs">3D t-SNE 3</text>
<text x="252" y="569.2" font-size="7.2" fill="#555" textLength="38.2" lengthAdjust="spacingAndGlyphs">3D t-SNE 1</text>
<text transform="translate(152,448) rotate(-90)" font-size="7.2" fill="#555" text-anchor="middle" textLength="39.7" lengthAdjust="spacingAndGlyphs">3D t-SNE 2</text>
<g fill="#2f66cc" stroke="#2454b4" stroke-width="0.6"><circle cx="184.0" cy="419.5" r="1.9"/><circle cx="192.4" cy="428.5" r="1.9"/><circle cx="203.4" cy="446.5" r="1.9"/><circle cx="196.1" cy="412.0" r="1.9"/><circle cx="192.1" cy="437.9" r="1.9"/><circle cx="204.4" cy="406.3" r="1.9"/><circle cx="211.3" cy="466.5" r="1.9"/><circle cx="240.6" cy="434.5" r="1.9"/><circle cx="197.3" cy="435.8" r="1.9"/><circle cx="225.6" cy="441.1" r="1.9"/><circle cx="196.8" cy="404.9" r="1.9"/><circle cx="203.0" cy="399.0" r="1.9"/><circle cx="222.3" cy="463.2" r="1.9"/><circle cx="196.0" cy="423.6" r="1.9"/><circle cx="214.0" cy="444.9" r="1.9"/><circle cx="221.0" cy="418.8" r="1.9"/><circle cx="195.3" cy="449.4" r="1.9"/><circle cx="208.4" cy="405.4" r="1.9"/><circle cx="237.8" cy="414.8" r="1.9"/><circle cx="229.4" cy="410.7" r="1.9"/><circle cx="229.5" cy="457.2" r="1.9"/><circle cx="230.3" cy="420.2" r="1.9"/><circle cx="201.5" cy="436.8" r="1.9"/><circle cx="214.2" cy="426.1" r="1.9"/><circle cx="229.4" cy="407.5" r="1.9"/><circle cx="194.0" cy="450.9" r="1.9"/><circle cx="232.3" cy="411.4" r="1.9"/><circle cx="191.4" cy="434.2" r="1.9"/><circle cx="238.2" cy="437.8" r="1.9"/><circle cx="243.8" cy="422.2" r="1.9"/><circle cx="230.7" cy="440.3" r="1.9"/><circle cx="224.2" cy="448.8" r="1.9"/><circle cx="215.4" cy="443.3" r="1.9"/><circle cx="221.2" cy="418.1" r="1.9"/><circle cx="191.1" cy="430.1" r="1.9"/><circle cx="195.4" cy="438.6" r="1.9"/><circle cx="200.1" cy="426.0" r="1.9"/><circle cx="246.0" cy="437.8" r="1.9"/><circle cx="188.3" cy="448.5" r="1.9"/><circle cx="248.6" cy="426.1" r="1.9"/><circle cx="200.3" cy="454.0" r="1.9"/><circle cx="182.4" cy="419.8" r="1.9"/><circle cx="230.1" cy="421.5" r="1.9"/><circle cx="230.7" cy="421.3" r="1.9"/><circle cx="193.4" cy="417.1" r="1.9"/><circle cx="239.6" cy="422.7" r="1.9"/><circle cx="236.0" cy="391.0" r="1.9"/><circle cx="235.4" cy="436.3" r="1.9"/><circle cx="184.2" cy="442.9" r="1.9"/><circle cx="209.9" cy="445.3" r="1.9"/><circle cx="218.7" cy="430.4" r="1.9"/><circle cx="209.2" cy="462.0" r="1.9"/><circle cx="216.2" cy="428.9" r="1.9"/><circle cx="237.5" cy="445.2" r="1.9"/><circle cx="226.0" cy="421.9" r="1.9"/><circle cx="204.8" cy="430.1" r="1.9"/><circle cx="199.4" cy="403.2" r="1.9"/><circle cx="187.5" cy="443.6" r="1.9"/><circle cx="194.6" cy="419.3" r="1.9"/><circle cx="239.5" cy="443.4" r="1.9"/><circle cx="243.0" cy="399.0" r="1.9"/><circle cx="225.0" cy="399.0" r="1.9"/><circle cx="218.8" cy="462.1" r="1.9"/><circle cx="227.4" cy="438.0" r="1.9"/><circle cx="208.4" cy="455.0" r="1.9"/><circle cx="204.9" cy="431.9" r="1.9"/><circle cx="241.7" cy="439.8" r="1.9"/><circle cx="231.3" cy="426.7" r="1.9"/><circle cx="232.0" cy="475.0" r="1.9"/><circle cx="223.4" cy="454.1" r="1.9"/><circle cx="216.0" cy="434.5" r="1.9"/><circle cx="196.6" cy="426.4" r="1.9"/><circle cx="206.9" cy="454.7" r="1.9"/><circle cx="247.7" cy="435.1" r="1.9"/><circle cx="227.5" cy="420.8" r="1.9"/><circle cx="192.1" cy="414.1" r="1.9"/><circle cx="220.0" cy="420.4" r="1.9"/><circle cx="223.1" cy="433.0" r="1.9"/><circle cx="222.4" cy="418.6" r="1.9"/><circle cx="187.4" cy="430.1" r="1.9"/><circle cx="221.2" cy="433.7" r="1.9"/><circle cx="216.6" cy="433.6" r="1.9"/><circle cx="217.6" cy="434.0" r="1.9"/><circle cx="211.3" cy="451.1" r="1.9"/><circle cx="212.8" cy="449.7" r="1.9"/><circle cx="223.0" cy="446.8" r="1.9"/><circle cx="233.5" cy="474.0" r="1.9"/><circle cx="209.9" cy="461.1" r="1.9"/><circle cx="183.9" cy="443.3" r="1.9"/><circle cx="197.6" cy="428.1" r="1.9"/><circle cx="244.0" cy="392.0" r="1.9"/><circle cx="185.7" cy="424.7" r="1.9"/><circle cx="238.8" cy="437.6" r="1.9"/><circle cx="191.4" cy="412.4" r="1.9"/><circle cx="234.5" cy="385.5" r="1.9"/><circle cx="217.4" cy="453.8" r="1.9"/><circle cx="212.7" cy="414.3" r="1.9"/><circle cx="240.5" cy="473.0" r="1.9"/><circle cx="234.1" cy="417.1" r="1.9"/><circle cx="231.7" cy="457.4" r="1.9"/><circle cx="194.0" cy="435.3" r="1.9"/><circle cx="235.6" cy="412.6" r="1.9"/><circle cx="186.6" cy="415.4" r="1.9"/><circle cx="248.7" cy="430.0" r="1.9"/><circle cx="240.2" cy="438.6" r="1.9"/><circle cx="192.8" cy="442.7" r="1.9"/><circle cx="216.8" cy="427.3" r="1.9"/><circle cx="212.8" cy="413.6" r="1.9"/><circle cx="229.0" cy="467.0" r="1.9"/><circle cx="184.6" cy="439.3" r="1.9"/><circle cx="217.2" cy="435.2" r="1.9"/><circle cx="224.8" cy="415.4" r="1.9"/><circle cx="203.4" cy="433.4" r="1.9"/><circle cx="210.6" cy="437.6" r="1.9"/><circle cx="235.8" cy="419.6" r="1.9"/><circle cx="233.7" cy="421.3" r="1.9"/><circle cx="239.7" cy="414.5" r="1.9"/><circle cx="192.8" cy="428.1" r="1.9"/><circle cx="210.5" cy="417.5" r="1.9"/><circle cx="214.0" cy="410.7" r="1.9"/><circle cx="253.0" cy="477.0" r="1.9"/><circle cx="263.1" cy="514.6" r="1.9"/><circle cx="209.8" cy="457.4" r="1.9"/><circle cx="236.9" cy="431.9" r="1.9"/><circle cx="195.2" cy="447.9" r="1.9"/><circle cx="234.0" cy="435.6" r="1.9"/><circle cx="212.6" cy="431.2" r="1.9"/><circle cx="241.5" cy="440.7" r="1.9"/><circle cx="201.6" cy="431.1" r="1.9"/><circle cx="200.5" cy="420.0" r="1.9"/><circle cx="237.0" cy="402.5" r="1.9"/><circle cx="233.4" cy="413.1" r="1.9"/><circle cx="215.9" cy="414.9" r="1.9"/><circle cx="199.5" cy="421.9" r="1.9"/><circle cx="215.1" cy="428.4" r="1.9"/><circle cx="187.0" cy="436.1" r="1.9"/><circle cx="207.1" cy="446.5" r="1.9"/><circle cx="236.3" cy="442.2" r="1.9"/><circle cx="218.9" cy="421.5" r="1.9"/><circle cx="234.9" cy="427.5" r="1.9"/><circle cx="230.9" cy="414.9" r="1.9"/><circle cx="206.3" cy="445.2" r="1.9"/><circle cx="195.6" cy="419.2" r="1.9"/><circle cx="208.3" cy="408.4" r="1.9"/><circle cx="239.0" cy="425.4" r="1.9"/><circle cx="183.6" cy="419.6" r="1.9"/><circle cx="216.2" cy="409.3" r="1.9"/><circle cx="230.9" cy="439.1" r="1.9"/><circle cx="233.2" cy="426.3" r="1.9"/><circle cx="243.9" cy="427.1" r="1.9"/><circle cx="247.0" cy="405.0" r="1.9"/><circle cx="184.3" cy="445.9" r="1.9"/><circle cx="184.0" cy="417.1" r="1.9"/><circle cx="220.0" cy="427.7" r="1.9"/><circle cx="223.1" cy="462.4" r="1.9"/><circle cx="246.1" cy="427.8" r="1.9"/><circle cx="191.4" cy="413.4" r="1.9"/><circle cx="210.9" cy="416.6" r="1.9"/><circle cx="215.8" cy="448.3" r="1.9"/><circle cx="236.9" cy="440.6" r="1.9"/><circle cx="207.4" cy="403.1" r="1.9"/><circle cx="234.0" cy="396.0" r="1.9"/><circle cx="220.9" cy="413.9" r="1.9"/><circle cx="200.5" cy="436.8" r="1.9"/><circle cx="206.4" cy="454.1" r="1.9"/><circle cx="221.1" cy="451.8" r="1.9"/><circle cx="226.5" cy="481.0" r="1.9"/><circle cx="227.3" cy="412.1" r="1.9"/><circle cx="225.5" cy="438.3" r="1.9"/><circle cx="233.1" cy="426.7" r="1.9"/><circle cx="225.2" cy="437.7" r="1.9"/><circle cx="239.7" cy="419.5" r="1.9"/><circle cx="230.5" cy="425.5" r="1.9"/><circle cx="188.4" cy="450.8" r="1.9"/><circle cx="295.8" cy="426.2" r="1.9"/><circle cx="211.9" cy="427.1" r="1.9"/><circle cx="193.5" cy="427.3" r="1.9"/><circle cx="237.5" cy="412.8" r="1.9"/><circle cx="191.0" cy="426.5" r="1.9"/><circle cx="222.0" cy="469.0" r="1.9"/><circle cx="211.7" cy="448.6" r="1.9"/><circle cx="229.1" cy="414.8" r="1.9"/><circle cx="203.6" cy="441.9" r="1.9"/><circle cx="219.5" cy="447.4" r="1.9"/><circle cx="222.3" cy="451.5" r="1.9"/><circle cx="212.3" cy="410.7" r="1.9"/><circle cx="223.0" cy="430.3" r="1.9"/><circle cx="224.9" cy="412.5" r="1.9"/><circle cx="215.6" cy="452.1" r="1.9"/><circle cx="216.4" cy="425.6" r="1.9"/><circle cx="204.9" cy="444.9" r="1.9"/><circle cx="197.7" cy="422.5" r="1.9"/><circle cx="195.0" cy="448.8" r="1.9"/><circle cx="216.0" cy="440.3" r="1.9"/><circle cx="191.8" cy="415.1" r="1.9"/><circle cx="223.4" cy="426.6" r="1.9"/><circle cx="221.5" cy="406.1" r="1.9"/><circle cx="198.9" cy="403.0" r="1.9"/><circle cx="191.1" cy="414.7" r="1.9"/><circle cx="191.4" cy="417.9" r="1.9"/><circle cx="241.4" cy="425.2" r="1.9"/><circle cx="227.8" cy="439.4" r="1.9"/><circle cx="220.6" cy="442.8" r="1.9"/><circle cx="204.0" cy="446.6" r="1.9"/><circle cx="202.7" cy="444.1" r="1.9"/><circle cx="205.1" cy="405.0" r="1.9"/><circle cx="184.4" cy="421.5" r="1.9"/><circle cx="196.5" cy="412.2" r="1.9"/><circle cx="232.5" cy="400.5" r="1.9"/><circle cx="224.2" cy="400.7" r="1.9"/><circle cx="208.1" cy="454.0" r="1.9"/><circle cx="199.7" cy="446.0" r="1.9"/><circle cx="224.0" cy="442.2" r="1.9"/><circle cx="200.2" cy="433.3" r="1.9"/><circle cx="228.5" cy="451.9" r="1.9"/><circle cx="223.3" cy="429.6" r="1.9"/><circle cx="236.3" cy="424.1" r="1.9"/><circle cx="225.4" cy="419.8" r="1.9"/><circle cx="199.0" cy="449.6" r="1.9"/><circle cx="222.0" cy="402.1" r="1.9"/><circle cx="246.1" cy="432.9" r="1.9"/><circle cx="216.7" cy="454.0" r="1.9"/><circle cx="214.3" cy="446.5" r="1.9"/><circle cx="225.1" cy="441.6" r="1.9"/><circle cx="185.7" cy="425.9" r="1.9"/><circle cx="226.0" cy="459.3" r="1.9"/><circle cx="229.4" cy="440.9" r="1.9"/><circle cx="246.0" cy="430.8" r="1.9"/><circle cx="209.8" cy="435.4" r="1.9"/><circle cx="198.0" cy="410.0" r="1.9"/><circle cx="216.1" cy="406.8" r="1.9"/><circle cx="217.7" cy="452.4" r="1.9"/><circle cx="220.0" cy="441.1" r="1.9"/><circle cx="229.1" cy="438.3" r="1.9"/><circle cx="230.0" cy="455.9" r="1.9"/><circle cx="205.8" cy="421.5" r="1.9"/><circle cx="243.0" cy="436.8" r="1.9"/><circle cx="230.1" cy="431.2" r="1.9"/><circle cx="217.8" cy="434.4" r="1.9"/><circle cx="229.1" cy="438.4" r="1.9"/><circle cx="214.6" cy="439.6" r="1.9"/><circle cx="183.4" cy="442.6" r="1.9"/><circle cx="200.8" cy="414.3" r="1.9"/><circle cx="238.3" cy="440.0" r="1.9"/><circle cx="226.3" cy="408.2" r="1.9"/><circle cx="205.2" cy="438.3" r="1.9"/><circle cx="225.4" cy="414.8" r="1.9"/><circle cx="237.4" cy="441.3" r="1.9"/><circle cx="184.9" cy="419.5" r="1.9"/><circle cx="228.5" cy="457.8" r="1.9"/><circle cx="218.6" cy="432.8" r="1.9"/><circle cx="211.3" cy="452.1" r="1.9"/><circle cx="237.9" cy="427.9" r="1.9"/><circle cx="191.9" cy="441.7" r="1.9"/><circle cx="218.4" cy="416.7" r="1.9"/><circle cx="191.8" cy="449.8" r="1.9"/><circle cx="231.1" cy="447.8" r="1.9"/><circle cx="200.8" cy="457.4" r="1.9"/><circle cx="200.9" cy="426.3" r="1.9"/><circle cx="228.8" cy="458.9" r="1.9"/><circle cx="229.2" cy="411.9" r="1.9"/><circle cx="229.6" cy="404.9" r="1.9"/><circle cx="228.2" cy="434.8" r="1.9"/><circle cx="190.3" cy="433.1" r="1.9"/><circle cx="217.5" cy="465.8" r="1.9"/><circle cx="209.0" cy="431.8" r="1.9"/><circle cx="219.0" cy="408.4" r="1.9"/><circle cx="232.6" cy="451.2" r="1.9"/><circle cx="212.1" cy="412.6" r="1.9"/><circle cx="189.6" cy="431.4" r="1.9"/><circle cx="187.9" cy="433.1" r="1.9"/><circle cx="238.5" cy="448.1" r="1.9"/><circle cx="223.4" cy="444.4" r="1.9"/><circle cx="230.2" cy="447.1" r="1.9"/><circle cx="218.9" cy="462.0" r="1.9"/><circle cx="224.0" cy="435.5" r="1.9"/><circle cx="220.1" cy="462.4" r="1.9"/><circle cx="234.5" cy="442.2" r="1.9"/><circle cx="198.5" cy="448.7" r="1.9"/><circle cx="195.6" cy="440.6" r="1.9"/><circle cx="179.4" cy="421.4" r="1.9"/><circle cx="247.8" cy="434.5" r="1.9"/><circle cx="186.5" cy="427.8" r="1.9"/><circle cx="225.6" cy="477.9" r="1.9"/><circle cx="193.4" cy="416.3" r="1.9"/><circle cx="204.1" cy="430.8" r="1.9"/><circle cx="238.5" cy="446.8" r="1.9"/><circle cx="228.1" cy="452.3" r="1.9"/><circle cx="208.8" cy="424.1" r="1.9"/><circle cx="242.6" cy="411.8" r="1.9"/><circle cx="217.7" cy="442.7" r="1.9"/><circle cx="190.8" cy="424.1" r="1.9"/><circle cx="243.0" cy="420.4" r="1.9"/><circle cx="206.5" cy="425.4" r="1.9"/><circle cx="215.7" cy="464.4" r="1.9"/><circle cx="243.8" cy="429.0" r="1.9"/><circle cx="184.4" cy="418.2" r="1.9"/><circle cx="198.0" cy="443.3" r="1.9"/><circle cx="238.5" cy="386.5" r="1.9"/><circle cx="189.4" cy="451.4" r="1.9"/><circle cx="194.2" cy="419.7" r="1.9"/><circle cx="237.8" cy="444.3" r="1.9"/><circle cx="190.7" cy="449.0" r="1.9"/><circle cx="197.5" cy="431.5" r="1.9"/><circle cx="236.7" cy="426.7" r="1.9"/><circle cx="207.5" cy="428.7" r="1.9"/><circle cx="215.9" cy="435.2" r="1.9"/><circle cx="188.4" cy="425.4" r="1.9"/><circle cx="223.2" cy="412.0" r="1.9"/><circle cx="217.2" cy="437.7" r="1.9"/><circle cx="212.4" cy="420.5" r="1.9"/><circle cx="231.6" cy="453.1" r="1.9"/><circle cx="187.2" cy="428.7" r="1.9"/><circle cx="196.0" cy="411.4" r="1.9"/><circle cx="227.4" cy="419.2" r="1.9"/><circle cx="204.8" cy="454.4" r="1.9"/><circle cx="222.9" cy="405.3" r="1.9"/><circle cx="213.6" cy="436.0" r="1.9"/><circle cx="254.5" cy="478.5" r="1.9"/><circle cx="198.2" cy="436.8" r="1.9"/><circle cx="229.9" cy="448.1" r="1.9"/><circle cx="222.3" cy="417.8" r="1.9"/><circle cx="219.0" cy="410.3" r="1.9"/><circle cx="212.1" cy="410.2" r="1.9"/><circle cx="206.7" cy="423.2" r="1.9"/><circle cx="238.3" cy="423.1" r="1.9"/><circle cx="215.5" cy="416.7" r="1.9"/><circle cx="219.3" cy="412.2" r="1.9"/><circle cx="210.1" cy="403.6" r="1.9"/><circle cx="190.8" cy="451.7" r="1.9"/><circle cx="206.5" cy="421.9" r="1.9"/><circle cx="224.0" cy="435.0" r="1.9"/><circle cx="241.4" cy="417.9" r="1.9"/><circle cx="203.9" cy="417.2" r="1.9"/><circle cx="237.0" cy="473.0" r="1.9"/><circle cx="194.0" cy="452.2" r="1.9"/><circle cx="227.0" cy="462.0" r="1.9"/><circle cx="219.2" cy="407.3" r="1.9"/><circle cx="243.5" cy="431.3" r="1.9"/><circle cx="231.4" cy="455.4" r="1.9"/><circle cx="202.2" cy="453.8" r="1.9"/><circle cx="218.7" cy="432.3" r="1.9"/><circle cx="203.8" cy="449.4" r="1.9"/><circle cx="206.9" cy="447.6" r="1.9"/><circle cx="201.2" cy="416.4" r="1.9"/><circle cx="227.8" cy="402.7" r="1.9"/><circle cx="211.0" cy="417.7" r="1.9"/><circle cx="202.7" cy="431.2" r="1.9"/><circle cx="204.4" cy="418.2" r="1.9"/><circle cx="228.3" cy="433.2" r="1.9"/><circle cx="213.0" cy="468.4" r="1.9"/><circle cx="222.3" cy="450.3" r="1.9"/><circle cx="214.7" cy="453.8" r="1.9"/><circle cx="190.5" cy="451.6" r="1.9"/><circle cx="240.5" cy="380.9" r="1.9"/><circle cx="200.5" cy="425.0" r="1.9"/><circle cx="215.0" cy="471.0" r="1.9"/><circle cx="192.4" cy="431.1" r="1.9"/><circle cx="205.1" cy="409.9" r="1.9"/><circle cx="208.6" cy="416.3" r="1.9"/><circle cx="219.4" cy="459.4" r="1.9"/><circle cx="193.2" cy="422.3" r="1.9"/><circle cx="209.8" cy="457.6" r="1.9"/><circle cx="229.5" cy="396.0" r="1.9"/><circle cx="186.4" cy="443.9" r="1.9"/><circle cx="244.3" cy="428.2" r="1.9"/><circle cx="261.0" cy="465.5" r="1.9"/><circle cx="198.0" cy="397.0" r="1.9"/><circle cx="228.5" cy="480.0" r="1.9"/><circle cx="226.8" cy="448.1" r="1.9"/><circle cx="232.4" cy="415.4" r="1.9"/><circle cx="218.3" cy="458.3" r="1.9"/><circle cx="218.3" cy="429.7" r="1.9"/><circle cx="198.4" cy="408.1" r="1.9"/><circle cx="205.5" cy="439.9" r="1.9"/><circle cx="192.6" cy="442.8" r="1.9"/><circle cx="186.9" cy="434.1" r="1.9"/><circle cx="232.2" cy="419.6" r="1.9"/><circle cx="193.4" cy="444.9" r="1.9"/><circle cx="205.1" cy="427.3" r="1.9"/><circle cx="214.9" cy="443.8" r="1.9"/><circle cx="235.7" cy="425.3" r="1.9"/><circle cx="204.4" cy="423.7" r="1.9"/><circle cx="201.6" cy="445.1" r="1.9"/><circle cx="217.2" cy="438.2" r="1.9"/><circle cx="226.4" cy="450.2" r="1.9"/><circle cx="225.9" cy="454.0" r="1.9"/><circle cx="235.8" cy="427.9" r="1.9"/><circle cx="214.5" cy="451.7" r="1.9"/><circle cx="244.6" cy="431.0" r="1.9"/><circle cx="247.1" cy="432.2" r="1.9"/><circle cx="205.1" cy="436.2" r="1.9"/><circle cx="193.3" cy="425.9" r="1.9"/><circle cx="239.3" cy="441.3" r="1.9"/><circle cx="215.2" cy="449.2" r="1.9"/><circle cx="233.9" cy="410.7" r="1.9"/><circle cx="223.0" cy="425.1" r="1.9"/><circle cx="251.3" cy="440.1" r="1.9"/><circle cx="254.4" cy="433.1" r="1.9"/><circle cx="256.9" cy="448.3" r="1.9"/><circle cx="242.3" cy="412.5" r="1.9"/><circle cx="248.4" cy="428.7" r="1.9"/><circle cx="251.7" cy="434.4" r="1.9"/><circle cx="241.5" cy="421.4" r="1.9"/><circle cx="239.0" cy="421.6" r="1.9"/><circle cx="244.4" cy="437.0" r="1.9"/><circle cx="242.1" cy="418.3" r="1.9"/><circle cx="239.5" cy="427.0" r="1.9"/><circle cx="246.7" cy="416.1" r="1.9"/><circle cx="249.7" cy="446.6" r="1.9"/><circle cx="248.9" cy="445.7" r="1.9"/><circle cx="238.9" cy="417.5" r="1.9"/><circle cx="247.4" cy="420.7" r="1.9"/><circle cx="248.2" cy="408.3" r="1.9"/><circle cx="256.3" cy="445.1" r="1.9"/></g>
<g fill="#dc3c14" stroke="#bb3010" stroke-width="0.6"><circle cx="267.2" cy="414.7" r="1.9"/><circle cx="264.5" cy="385.3" r="1.9"/><circle cx="271.4" cy="412.8" r="1.9"/><circle cx="258.2" cy="429.4" r="1.9"/><circle cx="262.3" cy="379.6" r="1.9"/><circle cx="268.0" cy="408.2" r="1.9"/><circle cx="257.3" cy="422.2" r="1.9"/><circle cx="288.2" cy="419.6" r="1.9"/><circle cx="270.8" cy="403.2" r="1.9"/><circle cx="281.7" cy="412.3" r="1.9"/><circle cx="267.1" cy="393.5" r="1.9"/><circle cx="298.9" cy="420.7" r="1.9"/><circle cx="263.5" cy="429.6" r="1.9"/><circle cx="259.3" cy="412.3" r="1.9"/><circle cx="269.2" cy="421.6" r="1.9"/><circle cx="271.9" cy="407.7" r="1.9"/><circle cx="264.3" cy="443.7" r="1.9"/><circle cx="298.2" cy="404.7" r="1.9"/><circle cx="256.4" cy="415.6" r="1.9"/><circle cx="266.1" cy="402.9" r="1.9"/><circle cx="259.6" cy="391.4" r="1.9"/><circle cx="287.0" cy="391.9" r="1.9"/><circle cx="270.9" cy="392.3" r="1.9"/><circle cx="266.4" cy="433.8" r="1.9"/><circle cx="257.8" cy="425.6" r="1.9"/><circle cx="276.4" cy="420.6" r="1.9"/><circle cx="269.6" cy="396.4" r="1.9"/><circle cx="290.9" cy="418.0" r="1.9"/><circle cx="262.1" cy="393.2" r="1.9"/><circle cx="267.1" cy="387.0" r="1.9"/><circle cx="277.7" cy="382.5" r="1.9"/><circle cx="254.5" cy="432.8" r="1.9"/><circle cx="255.1" cy="410.8" r="1.9"/><circle cx="292.2" cy="413.3" r="1.9"/><circle cx="257.9" cy="446.9" r="1.9"/><circle cx="263.1" cy="415.6" r="1.9"/><circle cx="293.6" cy="405.6" r="1.9"/><circle cx="289.0" cy="393.4" r="1.9"/><circle cx="280.7" cy="408.1" r="1.9"/><circle cx="255.8" cy="404.3" r="1.9"/><circle cx="286.4" cy="391.6" r="1.9"/><circle cx="287.4" cy="408.0" r="1.9"/><circle cx="284.3" cy="406.0" r="1.9"/><circle cx="251.5" cy="433.6" r="1.9"/><circle cx="264.9" cy="435.1" r="1.9"/><circle cx="267.3" cy="373.8" r="1.9"/><circle cx="279.3" cy="413.5" r="1.9"/><circle cx="269.8" cy="398.4" r="1.9"/><circle cx="264.7" cy="405.6" r="1.9"/><circle cx="303.9" cy="405.4" r="1.9"/><circle cx="287.8" cy="419.0" r="1.9"/><circle cx="258.6" cy="380.8" r="1.9"/><circle cx="276.2" cy="382.0" r="1.9"/><circle cx="267.0" cy="373.2" r="1.9"/><circle cx="280.6" cy="384.0" r="1.9"/><circle cx="283.9" cy="395.3" r="1.9"/><circle cx="261.6" cy="413.5" r="1.9"/><circle cx="269.4" cy="394.1" r="1.9"/><circle cx="253.2" cy="387.4" r="1.9"/><circle cx="260.2" cy="447.0" r="1.9"/><circle cx="276.0" cy="407.6" r="1.9"/><circle cx="294.2" cy="405.9" r="1.9"/><circle cx="252.0" cy="419.4" r="1.9"/><circle cx="289.5" cy="386.8" r="1.9"/><circle cx="266.2" cy="416.2" r="1.9"/><circle cx="302.2" cy="406.5" r="1.9"/><circle cx="288.4" cy="393.3" r="1.9"/><circle cx="281.2" cy="391.3" r="1.9"/><circle cx="270.6" cy="403.6" r="1.9"/><circle cx="269.3" cy="427.0" r="1.9"/><circle cx="268.7" cy="395.8" r="1.9"/><circle cx="290.5" cy="389.9" r="1.9"/><circle cx="290.6" cy="419.0" r="1.9"/><circle cx="287.0" cy="386.9" r="1.9"/><circle cx="254.7" cy="383.9" r="1.9"/><circle cx="268.5" cy="409.0" r="1.9"/><circle cx="271.5" cy="399.5" r="1.9"/><circle cx="260.3" cy="448.1" r="1.9"/><circle cx="266.8" cy="437.1" r="1.9"/><circle cx="261.1" cy="407.0" r="1.9"/><circle cx="288.5" cy="387.0" r="1.9"/><circle cx="264.2" cy="430.4" r="1.9"/><circle cx="259.1" cy="402.6" r="1.9"/><circle cx="284.5" cy="404.4" r="1.9"/><circle cx="285.0" cy="390.0" r="1.9"/><circle cx="296.9" cy="426.2" r="1.9"/><circle cx="277.2" cy="420.9" r="1.9"/><circle cx="255.2" cy="444.4" r="1.9"/><circle cx="287.6" cy="410.9" r="1.9"/><circle cx="286.2" cy="408.0" r="1.9"/><circle cx="270.4" cy="391.5" r="1.9"/><circle cx="282.6" cy="421.3" r="1.9"/><circle cx="284.1" cy="410.4" r="1.9"/><circle cx="276.4" cy="391.9" r="1.9"/><circle cx="293.6" cy="416.0" r="1.9"/><circle cx="262.9" cy="441.7" r="1.9"/><circle cx="274.3" cy="418.2" r="1.9"/><circle cx="264.5" cy="427.5" r="1.9"/><circle cx="252.9" cy="419.8" r="1.9"/><circle cx="293.0" cy="414.2" r="1.9"/><circle cx="262.4" cy="441.1" r="1.9"/><circle cx="293.6" cy="384.7" r="1.9"/><circle cx="269.4" cy="380.2" r="1.9"/><circle cx="255.4" cy="387.3" r="1.9"/><circle cx="260.4" cy="426.2" r="1.9"/><circle cx="259.9" cy="429.7" r="1.9"/><circle cx="267.9" cy="398.9" r="1.9"/><circle cx="284.2" cy="395.7" r="1.9"/><circle cx="259.0" cy="382.6" r="1.9"/><circle cx="287.8" cy="412.1" r="1.9"/><circle cx="256.1" cy="381.6" r="1.9"/><circle cx="268.9" cy="388.6" r="1.9"/><circle cx="290.2" cy="402.8" r="1.9"/><circle cx="266.2" cy="407.0" r="1.9"/><circle cx="257.0" cy="426.4" r="1.9"/><circle cx="271.8" cy="411.2" r="1.9"/><circle cx="262.0" cy="421.9" r="1.9"/><circle cx="286.8" cy="411.1" r="1.9"/><circle cx="301.3" cy="405.2" r="1.9"/><circle cx="290.6" cy="423.8" r="1.9"/><circle cx="274.0" cy="377.1" r="1.9"/><circle cx="272.4" cy="396.0" r="1.9"/><circle cx="265.3" cy="432.0" r="1.9"/><circle cx="286.6" cy="392.8" r="1.9"/><circle cx="271.9" cy="383.0" r="1.9"/><circle cx="272.4" cy="401.2" r="1.9"/><circle cx="282.0" cy="419.0" r="1.9"/><circle cx="254.4" cy="449.5" r="1.9"/><circle cx="250.1" cy="426.6" r="1.9"/><circle cx="275.2" cy="403.0" r="1.9"/><circle cx="274.9" cy="399.0" r="1.9"/><circle cx="304.6" cy="405.9" r="1.9"/><circle cx="260.6" cy="403.7" r="1.9"/><circle cx="256.8" cy="405.8" r="1.9"/><circle cx="258.2" cy="428.0" r="1.9"/><circle cx="263.0" cy="442.1" r="1.9"/><circle cx="255.5" cy="412.3" r="1.9"/><circle cx="278.9" cy="417.9" r="1.9"/><circle cx="255.1" cy="440.2" r="1.9"/><circle cx="265.7" cy="415.6" r="1.9"/><circle cx="255.8" cy="420.9" r="1.9"/><circle cx="256.1" cy="379.2" r="1.9"/><circle cx="277.6" cy="397.1" r="1.9"/><circle cx="272.1" cy="376.2" r="1.9"/><circle cx="261.0" cy="410.8" r="1.9"/><circle cx="280.2" cy="411.5" r="1.9"/><circle cx="271.6" cy="424.8" r="1.9"/><circle cx="257.4" cy="442.7" r="1.9"/><circle cx="257.6" cy="417.7" r="1.9"/><circle cx="253.2" cy="394.2" r="1.9"/><circle cx="255.1" cy="451.4" r="1.9"/><circle cx="267.3" cy="414.0" r="1.9"/><circle cx="271.0" cy="397.5" r="1.9"/><circle cx="269.5" cy="408.8" r="1.9"/><circle cx="275.6" cy="402.7" r="1.9"/><circle cx="273.0" cy="410.7" r="1.9"/><circle cx="252.3" cy="417.4" r="1.9"/><circle cx="279.6" cy="406.3" r="1.9"/><circle cx="261.3" cy="380.1" r="1.9"/><circle cx="269.7" cy="398.9" r="1.9"/><circle cx="276.0" cy="391.5" r="1.9"/><circle cx="290.9" cy="413.9" r="1.9"/><circle cx="269.3" cy="423.5" r="1.9"/><circle cx="269.5" cy="397.7" r="1.9"/><circle cx="266.5" cy="414.8" r="1.9"/><circle cx="263.0" cy="395.0" r="1.9"/><circle cx="293.5" cy="408.5" r="1.9"/><circle cx="297.1" cy="406.5" r="1.9"/><circle cx="264.9" cy="430.7" r="1.9"/><circle cx="252.0" cy="437.9" r="1.9"/><circle cx="251.5" cy="425.8" r="1.9"/><circle cx="290.2" cy="407.9" r="1.9"/><circle cx="292.7" cy="409.8" r="1.9"/><circle cx="291.0" cy="404.4" r="1.9"/><circle cx="274.0" cy="409.5" r="1.9"/><circle cx="255.4" cy="399.3" r="1.9"/><circle cx="255.3" cy="444.1" r="1.9"/><circle cx="286.2" cy="419.2" r="1.9"/><circle cx="255.2" cy="381.8" r="1.9"/><circle cx="260.7" cy="407.6" r="1.9"/><circle cx="255.7" cy="447.5" r="1.9"/><circle cx="273.1" cy="404.3" r="1.9"/><circle cx="254.7" cy="436.1" r="1.9"/><circle cx="258.2" cy="422.5" r="1.9"/><circle cx="260.2" cy="401.6" r="1.9"/><circle cx="258.0" cy="401.9" r="1.9"/><circle cx="282.0" cy="416.7" r="1.9"/><circle cx="270.6" cy="421.5" r="1.9"/><circle cx="281.6" cy="413.3" r="1.9"/><circle cx="288.0" cy="391.8" r="1.9"/><circle cx="263.5" cy="435.0" r="1.9"/><circle cx="281.1" cy="393.9" r="1.9"/><circle cx="299.9" cy="411.2" r="1.9"/><circle cx="276.2" cy="391.6" r="1.9"/><circle cx="291.1" cy="380.4" r="1.9"/><circle cx="250.8" cy="432.3" r="1.9"/><circle cx="280.7" cy="419.5" r="1.9"/><circle cx="267.5" cy="384.7" r="1.9"/><circle cx="292.9" cy="390.5" r="1.9"/><circle cx="260.0" cy="418.0" r="1.9"/><circle cx="283.1" cy="382.0" r="1.9"/><circle cx="291.8" cy="422.2" r="1.9"/><circle cx="287.5" cy="403.2" r="1.9"/><circle cx="262.8" cy="373.3" r="1.9"/><circle cx="279.0" cy="393.6" r="1.9"/><circle cx="265.3" cy="393.5" r="1.9"/><circle cx="256.2" cy="413.7" r="1.9"/><circle cx="264.1" cy="396.3" r="1.9"/><circle cx="264.4" cy="415.8" r="1.9"/><circle cx="283.0" cy="418.8" r="1.9"/><circle cx="290.0" cy="418.0" r="1.9"/><circle cx="261.9" cy="410.9" r="1.9"/><circle cx="301.8" cy="415.5" r="1.9"/><circle cx="280.6" cy="401.8" r="1.9"/><circle cx="280.6" cy="381.9" r="1.9"/><circle cx="250.5" cy="421.2" r="1.9"/><circle cx="278.4" cy="387.6" r="1.9"/><circle cx="278.4" cy="402.3" r="1.9"/><circle cx="276.8" cy="388.7" r="1.9"/><circle cx="288.4" cy="407.8" r="1.9"/><circle cx="276.1" cy="378.3" r="1.9"/><circle cx="276.2" cy="420.0" r="1.9"/><circle cx="256.4" cy="397.6" r="1.9"/><circle cx="267.7" cy="432.6" r="1.9"/><circle cx="295.6" cy="407.0" r="1.9"/><circle cx="267.7" cy="401.7" r="1.9"/><circle cx="263.5" cy="422.5" r="1.9"/><circle cx="286.7" cy="411.1" r="1.9"/><circle cx="262.0" cy="448.2" r="1.9"/><circle cx="258.7" cy="384.5" r="1.9"/><circle cx="263.0" cy="413.2" r="1.9"/><circle cx="262.2" cy="428.4" r="1.9"/><circle cx="263.4" cy="417.0" r="1.9"/><circle cx="263.1" cy="447.8" r="1.9"/><circle cx="259.2" cy="391.7" r="1.9"/><circle cx="265.7" cy="400.2" r="1.9"/><circle cx="293.2" cy="418.5" r="1.9"/><circle cx="253.2" cy="437.9" r="1.9"/><circle cx="262.5" cy="390.5" r="1.9"/><circle cx="269.6" cy="402.5" r="1.9"/><circle cx="270.6" cy="383.3" r="1.9"/><circle cx="270.1" cy="396.5" r="1.9"/><circle cx="270.2" cy="377.2" r="1.9"/><circle cx="260.4" cy="447.9" r="1.9"/><circle cx="256.8" cy="433.7" r="1.9"/><circle cx="256.4" cy="430.5" r="1.9"/><circle cx="302.1" cy="411.0" r="1.9"/><circle cx="269.7" cy="382.0" r="1.9"/><circle cx="252.8" cy="387.6" r="1.9"/><circle cx="268.3" cy="375.8" r="1.9"/><circle cx="266.1" cy="387.4" r="1.9"/><circle cx="255.7" cy="417.3" r="1.9"/><circle cx="279.2" cy="420.9" r="1.9"/><circle cx="291.6" cy="417.3" r="1.9"/><circle cx="261.3" cy="378.2" r="1.9"/><circle cx="266.2" cy="437.7" r="1.9"/><circle cx="300.7" cy="415.3" r="1.9"/><circle cx="257.8" cy="400.2" r="1.9"/><circle cx="280.7" cy="397.1" r="1.9"/><circle cx="296.3" cy="412.0" r="1.9"/><circle cx="259.5" cy="453.6" r="1.9"/><circle cx="291.7" cy="406.3" r="1.9"/><circle cx="258.5" cy="435.6" r="1.9"/><circle cx="260.7" cy="373.2" r="1.9"/><circle cx="261.1" cy="441.0" r="1.9"/><circle cx="274.9" cy="387.4" r="1.9"/><circle cx="251.1" cy="394.2" r="1.9"/><circle cx="283.6" cy="403.6" r="1.9"/><circle cx="266.6" cy="402.5" r="1.9"/><circle cx="298.5" cy="422.0" r="1.9"/><circle cx="272.2" cy="418.5" r="1.9"/><circle cx="274.7" cy="400.4" r="1.9"/><circle cx="265.0" cy="386.4" r="1.9"/><circle cx="289.5" cy="392.0" r="1.9"/><circle cx="281.6" cy="385.2" r="1.9"/><circle cx="254.2" cy="431.3" r="1.9"/><circle cx="268.3" cy="420.2" r="1.9"/><circle cx="277.7" cy="404.5" r="1.9"/><circle cx="263.9" cy="421.5" r="1.9"/><circle cx="284.3" cy="411.7" r="1.9"/><circle cx="253.9" cy="414.8" r="1.9"/><circle cx="273.7" cy="378.9" r="1.9"/><circle cx="263.1" cy="450.0" r="1.9"/><circle cx="277.1" cy="408.6" r="1.9"/><circle cx="276.3" cy="413.5" r="1.9"/><circle cx="265.1" cy="444.7" r="1.9"/><circle cx="277.1" cy="401.3" r="1.9"/><circle cx="259.8" cy="390.2" r="1.9"/><circle cx="293.8" cy="386.8" r="1.9"/><circle cx="262.5" cy="451.5" r="1.9"/><circle cx="252.4" cy="429.5" r="1.9"/><circle cx="259.2" cy="431.9" r="1.9"/><circle cx="283.8" cy="382.4" r="1.9"/><circle cx="284.7" cy="414.3" r="1.9"/><circle cx="270.4" cy="402.2" r="1.9"/><circle cx="293.5" cy="391.4" r="1.9"/><circle cx="287.8" cy="416.4" r="1.9"/><circle cx="266.6" cy="395.2" r="1.9"/><circle cx="272.7" cy="360.8" r="1.9"/><circle cx="273.5" cy="367.7" r="1.9"/><circle cx="278.8" cy="366.2" r="1.9"/><circle cx="305.8" cy="415.4" r="1.9"/><circle cx="245.0" cy="382.7" r="1.9"/><circle cx="231.0" cy="399.0" r="1.9"/><circle cx="239.0" cy="403.0" r="1.9"/><circle cx="252.0" cy="379.0" r="1.9"/><circle cx="248.0" cy="386.0" r="1.9"/><circle cx="299.0" cy="394.0" r="1.9"/><circle cx="229.0" cy="397.5" r="1.9"/><circle cx="238.5" cy="402.0" r="1.9"/><circle cx="246.6" cy="440.9" r="1.9"/><circle cx="256.8" cy="432.9" r="1.9"/><circle cx="250.1" cy="451.3" r="1.9"/><circle cx="252.6" cy="417.2" r="1.9"/><circle cx="248.6" cy="447.3" r="1.9"/><circle cx="243.7" cy="431.4" r="1.9"/><circle cx="243.3" cy="436.5" r="1.9"/><circle cx="252.3" cy="444.0" r="1.9"/><circle cx="251.7" cy="452.9" r="1.9"/><circle cx="252.9" cy="433.4" r="1.9"/><circle cx="257.9" cy="448.1" r="1.9"/><circle cx="251.2" cy="417.5" r="1.9"/><circle cx="246.7" cy="422.9" r="1.9"/><circle cx="242.4" cy="434.8" r="1.9"/><circle cx="245.4" cy="429.0" r="1.9"/><circle cx="247.2" cy="408.1" r="1.9"/><circle cx="244.6" cy="405.0" r="1.9"/><circle cx="242.4" cy="418.7" r="1.9"/><circle cx="246.7" cy="412.6" r="1.9"/><circle cx="245.8" cy="447.2" r="1.9"/><circle cx="245.5" cy="427.7" r="1.9"/><circle cx="247.7" cy="425.6" r="1.9"/><circle cx="245.0" cy="423.3" r="1.9"/><circle cx="251.6" cy="449.3" r="1.9"/><circle cx="254.1" cy="455.5" r="1.9"/><circle cx="254.0" cy="457.5" r="1.9"/></g>
<g fill="#2f66cc" stroke="#2454b4" stroke-width="0.6"><circle cx="240.6" cy="434.5" r="1.9"/><circle cx="246.0" cy="437.8" r="1.9"/><circle cx="239.6" cy="422.7" r="1.9"/><circle cx="238.8" cy="437.6" r="1.9"/><circle cx="248.7" cy="430.0" r="1.9"/><circle cx="239.7" cy="414.5" r="1.9"/><circle cx="241.5" cy="440.7" r="1.9"/><circle cx="239.0" cy="425.4" r="1.9"/><circle cx="243.9" cy="427.1" r="1.9"/><circle cx="246.1" cy="427.8" r="1.9"/><circle cx="241.4" cy="425.2" r="1.9"/><circle cx="246.1" cy="432.9" r="1.9"/><circle cx="243.0" cy="436.8" r="1.9"/><circle cx="238.5" cy="446.8" r="1.9"/><circle cx="243.0" cy="420.4" r="1.9"/><circle cx="238.3" cy="423.1" r="1.9"/><circle cx="243.5" cy="431.3" r="1.9"/><circle cx="244.3" cy="428.2" r="1.9"/><circle cx="247.1" cy="432.2" r="1.9"/><circle cx="239.3" cy="441.3" r="1.9"/><circle cx="243.5" cy="418.2" r="1.9"/><circle cx="246.2" cy="442.9" r="1.9"/><circle cx="247.4" cy="451.2" r="1.9"/><circle cx="247.1" cy="447.8" r="1.9"/><circle cx="243.2" cy="423.5" r="1.9"/><circle cx="241.9" cy="415.4" r="1.9"/><circle cx="243.1" cy="430.2" r="1.9"/><circle cx="254.6" cy="424.3" r="1.9"/><circle cx="256.4" cy="444.5" r="1.9"/><circle cx="245.7" cy="425.5" r="1.9"/><circle cx="247.5" cy="417.3" r="1.9"/><circle cx="239.0" cy="412.4" r="1.9"/><circle cx="251.1" cy="411.6" r="1.9"/><circle cx="255.4" cy="441.3" r="1.9"/><circle cx="241.5" cy="415.5" r="1.9"/><circle cx="244.7" cy="443.9" r="1.9"/><circle cx="243.2" cy="406.3" r="1.9"/><circle cx="248.3" cy="426.0" r="1.9"/><circle cx="239.4" cy="425.5" r="1.9"/><circle cx="252.0" cy="448.0" r="1.9"/><circle cx="253.0" cy="452.0" r="1.9"/><circle cx="254.0" cy="455.5" r="1.9"/><circle cx="253.5" cy="459.0" r="1.9"/><circle cx="252.5" cy="462.5" r="1.9"/><circle cx="265.4" cy="453.0" r="1.9"/><circle cx="265.6" cy="456.0" r="1.9"/><circle cx="231.0" cy="452.5" r="1.9"/><circle cx="234.0" cy="454.0" r="1.9"/><circle cx="237.5" cy="452.5" r="1.9"/><circle cx="240.0" cy="455.0" r="1.9"/><circle cx="236.0" cy="457.0" r="1.9"/></g>
<g fill="#1f9c2b" stroke="#157f1e" stroke-width="0.6"><circle cx="330.6" cy="515.2" r="1.9"/><circle cx="328.9" cy="529.4" r="1.9"/><circle cx="340.6" cy="519.7" r="1.9"/><circle cx="323.6" cy="511.4" r="1.9"/><circle cx="325.4" cy="518.8" r="1.9"/><circle cx="334.3" cy="509.3" r="1.9"/><circle cx="341.7" cy="516.1" r="1.9"/><circle cx="335.3" cy="519.4" r="1.9"/><circle cx="325.3" cy="509.2" r="1.9"/><circle cx="334.2" cy="519.4" r="1.9"/><circle cx="325.3" cy="523.5" r="1.9"/><circle cx="327.8" cy="525.5" r="1.9"/><circle cx="321.5" cy="520.2" r="1.9"/><circle cx="323.8" cy="521.2" r="1.9"/><circle cx="326.2" cy="521.3" r="1.9"/><circle cx="327.8" cy="512.1" r="1.9"/><circle cx="328.2" cy="518.2" r="1.9"/><circle cx="331.1" cy="510.9" r="1.9"/><circle cx="322.8" cy="512.2" r="1.9"/><circle cx="339.3" cy="520.0" r="1.9"/><circle cx="335.2" cy="516.8" r="1.9"/><circle cx="328.9" cy="512.3" r="1.9"/><circle cx="323.5" cy="525.0" r="1.9"/><circle cx="329.1" cy="518.0" r="1.9"/><circle cx="328.9" cy="523.6" r="1.9"/><circle cx="328.6" cy="516.5" r="1.9"/><circle cx="326.3" cy="515.7" r="1.9"/><circle cx="341.4" cy="515.4" r="1.9"/><circle cx="329.2" cy="510.9" r="1.9"/><circle cx="323.8" cy="523.4" r="1.9"/><circle cx="326.4" cy="526.3" r="1.9"/><circle cx="328.6" cy="519.5" r="1.9"/><circle cx="325.2" cy="515.1" r="1.9"/><circle cx="330.2" cy="514.8" r="1.9"/><circle cx="337.1" cy="508.8" r="1.9"/><circle cx="328.0" cy="512.7" r="1.9"/><circle cx="334.1" cy="515.8" r="1.9"/><circle cx="321.4" cy="518.2" r="1.9"/><circle cx="328.7" cy="530.2" r="1.9"/><circle cx="322.6" cy="521.5" r="1.9"/><circle cx="329.9" cy="511.9" r="1.9"/><circle cx="335.7" cy="511.9" r="1.9"/><circle cx="332.6" cy="518.0" r="1.9"/><circle cx="336.2" cy="521.8" r="1.9"/><circle cx="342.3" cy="515.5" r="1.9"/><circle cx="330.5" cy="519.3" r="1.9"/><circle cx="333.4" cy="514.8" r="1.9"/><circle cx="338.2" cy="516.1" r="1.9"/><circle cx="322.2" cy="514.5" r="1.9"/><circle cx="335.7" cy="518.0" r="1.9"/><circle cx="332.4" cy="513.0" r="1.9"/><circle cx="331.0" cy="514.3" r="1.9"/><circle cx="335.9" cy="510.7" r="1.9"/><circle cx="323.7" cy="512.8" r="1.9"/><circle cx="339.5" cy="517.2" r="1.9"/><circle cx="341.8" cy="513.1" r="1.9"/><circle cx="323.3" cy="512.0" r="1.9"/><circle cx="341.2" cy="519.5" r="1.9"/><circle cx="323.5" cy="516.6" r="1.9"/><circle cx="326.1" cy="523.7" r="1.9"/><circle cx="330.5" cy="519.1" r="1.9"/><circle cx="331.2" cy="517.0" r="1.9"/><circle cx="336.7" cy="515.9" r="1.9"/><circle cx="333.4" cy="511.6" r="1.9"/><circle cx="325.0" cy="522.0" r="1.9"/><circle cx="327.0" cy="525.0" r="1.9"/><circle cx="329.0" cy="527.5" r="1.9"/><circle cx="328.1" cy="494.4" r="1.9"/><circle cx="325.0" cy="498.0" r="1.9"/><circle cx="327.0" cy="500.0" r="1.9"/><circle cx="329.0" cy="502.0" r="1.9"/><circle cx="326.0" cy="503.0" r="1.9"/><circle cx="324.5" cy="500.0" r="1.9"/><circle cx="326.5" cy="507.7" r="1.9"/><circle cx="343.0" cy="524.0" r="1.9"/><circle cx="344.0" cy="527.5" r="1.9"/><circle cx="343.5" cy="520.0" r="1.9"/></g>
<g fill="#f7a012" stroke="#e48c06" stroke-width="0.6"><circle cx="352.2" cy="511.6" r="1.9"/><circle cx="353.6" cy="515.3" r="1.9"/><circle cx="343.1" cy="515.3" r="1.9"/><circle cx="348.3" cy="516.6" r="1.9"/><circle cx="347.4" cy="503.6" r="1.9"/><circle cx="351.6" cy="529.7" r="1.9"/><circle cx="345.1" cy="515.6" r="1.9"/><circle cx="350.1" cy="524.6" r="1.9"/><circle cx="351.2" cy="506.6" r="1.9"/><circle cx="345.2" cy="523.2" r="1.9"/><circle cx="349.6" cy="527.3" r="1.9"/><circle cx="352.1" cy="523.9" r="1.9"/><circle cx="356.1" cy="511.5" r="1.9"/><circle cx="345.4" cy="520.3" r="1.9"/><circle cx="350.7" cy="511.3" r="1.9"/><circle cx="344.6" cy="517.9" r="1.9"/><circle cx="350.3" cy="511.7" r="1.9"/><circle cx="349.7" cy="499.9" r="1.9"/><circle cx="352.0" cy="505.1" r="1.9"/><circle cx="348.4" cy="517.0" r="1.9"/><circle cx="357.1" cy="503.0" r="1.9"/><circle cx="348.3" cy="522.6" r="1.9"/><circle cx="348.1" cy="522.6" r="1.9"/><circle cx="346.7" cy="508.5" r="1.9"/><circle cx="345.2" cy="511.9" r="1.9"/><circle cx="348.0" cy="519.1" r="1.9"/><circle cx="351.4" cy="528.8" r="1.9"/><circle cx="344.5" cy="512.3" r="1.9"/><circle cx="351.2" cy="503.0" r="1.9"/><circle cx="354.6" cy="500.6" r="1.9"/><circle cx="352.2" cy="508.0" r="1.9"/><circle cx="347.3" cy="519.2" r="1.9"/><circle cx="345.2" cy="513.8" r="1.9"/><circle cx="346.4" cy="511.0" r="1.9"/><circle cx="353.2" cy="505.0" r="1.9"/><circle cx="355.7" cy="505.3" r="1.9"/><circle cx="351.1" cy="510.1" r="1.9"/><circle cx="352.3" cy="500.7" r="1.9"/><circle cx="353.6" cy="506.4" r="1.9"/><circle cx="349.9" cy="523.1" r="1.9"/><circle cx="348.9" cy="509.3" r="1.9"/><circle cx="348.5" cy="509.2" r="1.9"/><circle cx="354.0" cy="514.3" r="1.9"/><circle cx="353.1" cy="503.7" r="1.9"/><circle cx="345.4" cy="519.5" r="1.9"/><circle cx="348.8" cy="504.7" r="1.9"/><circle cx="353.8" cy="518.0" r="1.9"/><circle cx="342.8" cy="514.2" r="1.9"/><circle cx="350.9" cy="527.7" r="1.9"/><circle cx="348.1" cy="502.4" r="1.9"/><circle cx="352.4" cy="499.4" r="1.9"/><circle cx="350.7" cy="502.9" r="1.9"/><circle cx="351.8" cy="526.6" r="1.9"/><circle cx="347.7" cy="502.6" r="1.9"/><circle cx="352.9" cy="523.3" r="1.9"/><circle cx="351.5" cy="527.9" r="1.9"/><circle cx="346.8" cy="524.9" r="1.9"/><circle cx="352.3" cy="514.5" r="1.9"/><circle cx="342.4" cy="514.7" r="1.9"/><circle cx="346.4" cy="519.0" r="1.9"/><circle cx="350.3" cy="515.9" r="1.9"/><circle cx="351.9" cy="521.8" r="1.9"/><circle cx="346.8" cy="514.0" r="1.9"/><circle cx="350.2" cy="525.9" r="1.9"/><circle cx="348.5" cy="529.9" r="1.9"/><circle cx="349.9" cy="512.1" r="1.9"/><circle cx="349.8" cy="510.7" r="1.9"/><circle cx="348.6" cy="501.2" r="1.9"/><circle cx="353.0" cy="503.6" r="1.9"/><circle cx="344.6" cy="512.9" r="1.9"/><circle cx="351.8" cy="524.5" r="1.9"/><circle cx="265.4" cy="515.0" r="1.9"/><circle cx="266.5" cy="517.0" r="1.9"/><circle cx="268.0" cy="519.5" r="1.9"/><circle cx="269.5" cy="521.5" r="1.9"/><circle cx="271.0" cy="523.0" r="1.9"/><circle cx="272.5" cy="524.5" r="1.9"/><circle cx="274.0" cy="525.5" r="1.9"/><circle cx="275.5" cy="526.5" r="1.9"/><circle cx="277.0" cy="527.5" r="1.9"/><circle cx="278.5" cy="528.5" r="1.9"/><circle cx="279.5" cy="529.5" r="1.9"/><circle cx="277.5" cy="530.5" r="1.9"/><circle cx="276.0" cy="529.0" r="1.9"/><circle cx="272.5" cy="514.5" r="1.9"/><circle cx="273.5" cy="516.5" r="1.9"/><circle cx="274.5" cy="518.5" r="1.9"/><circle cx="275.5" cy="520.0" r="1.9"/><circle cx="267.0" cy="515.5" r="1.9"/><circle cx="270.0" cy="524.5" r="1.9"/></g>
<g fill="#f7a012" stroke="#e48c06" stroke-width="0.6"><circle cx="255.5" cy="480.2" r="1.9"/></g>
<text x="355.5" y="347.6" font-size="8.8" fill="#111" font-weight="bold" textLength="46.6" lengthAdjust="spacingAndGlyphs">Single-cell</text>
<text x="355.5" y="359.9" font-size="8.8" fill="#111" font-weight="bold" textLength="35.5" lengthAdjust="spacingAndGlyphs">Clusters</text>
<circle cx="376.8" cy="373.1" r="3.7" fill="#2f66cc" stroke="#2454b4" stroke-width="0.8"/>
<text x="385" y="376.2" font-size="8.6" fill="#555">1</text>
<circle cx="376.8" cy="385.2" r="3.7" fill="#dc3c14" stroke="#bb3010" stroke-width="0.8"/>
<text x="385" y="388.3" font-size="8.6" fill="#555">2</text>
<circle cx="376.8" cy="397.3" r="3.7" fill="#f7a012" stroke="#e48c06" stroke-width="0.8"/>
<text x="385" y="400.4" font-size="8.6" fill="#555">3</text>
<circle cx="376.8" cy="409.4" r="3.7" fill="#1f9c2b" stroke="#157f1e" stroke-width="0.8"/>
<text x="385" y="412.5" font-size="8.6" fill="#555">4</text>
</svg>
</body></html>
